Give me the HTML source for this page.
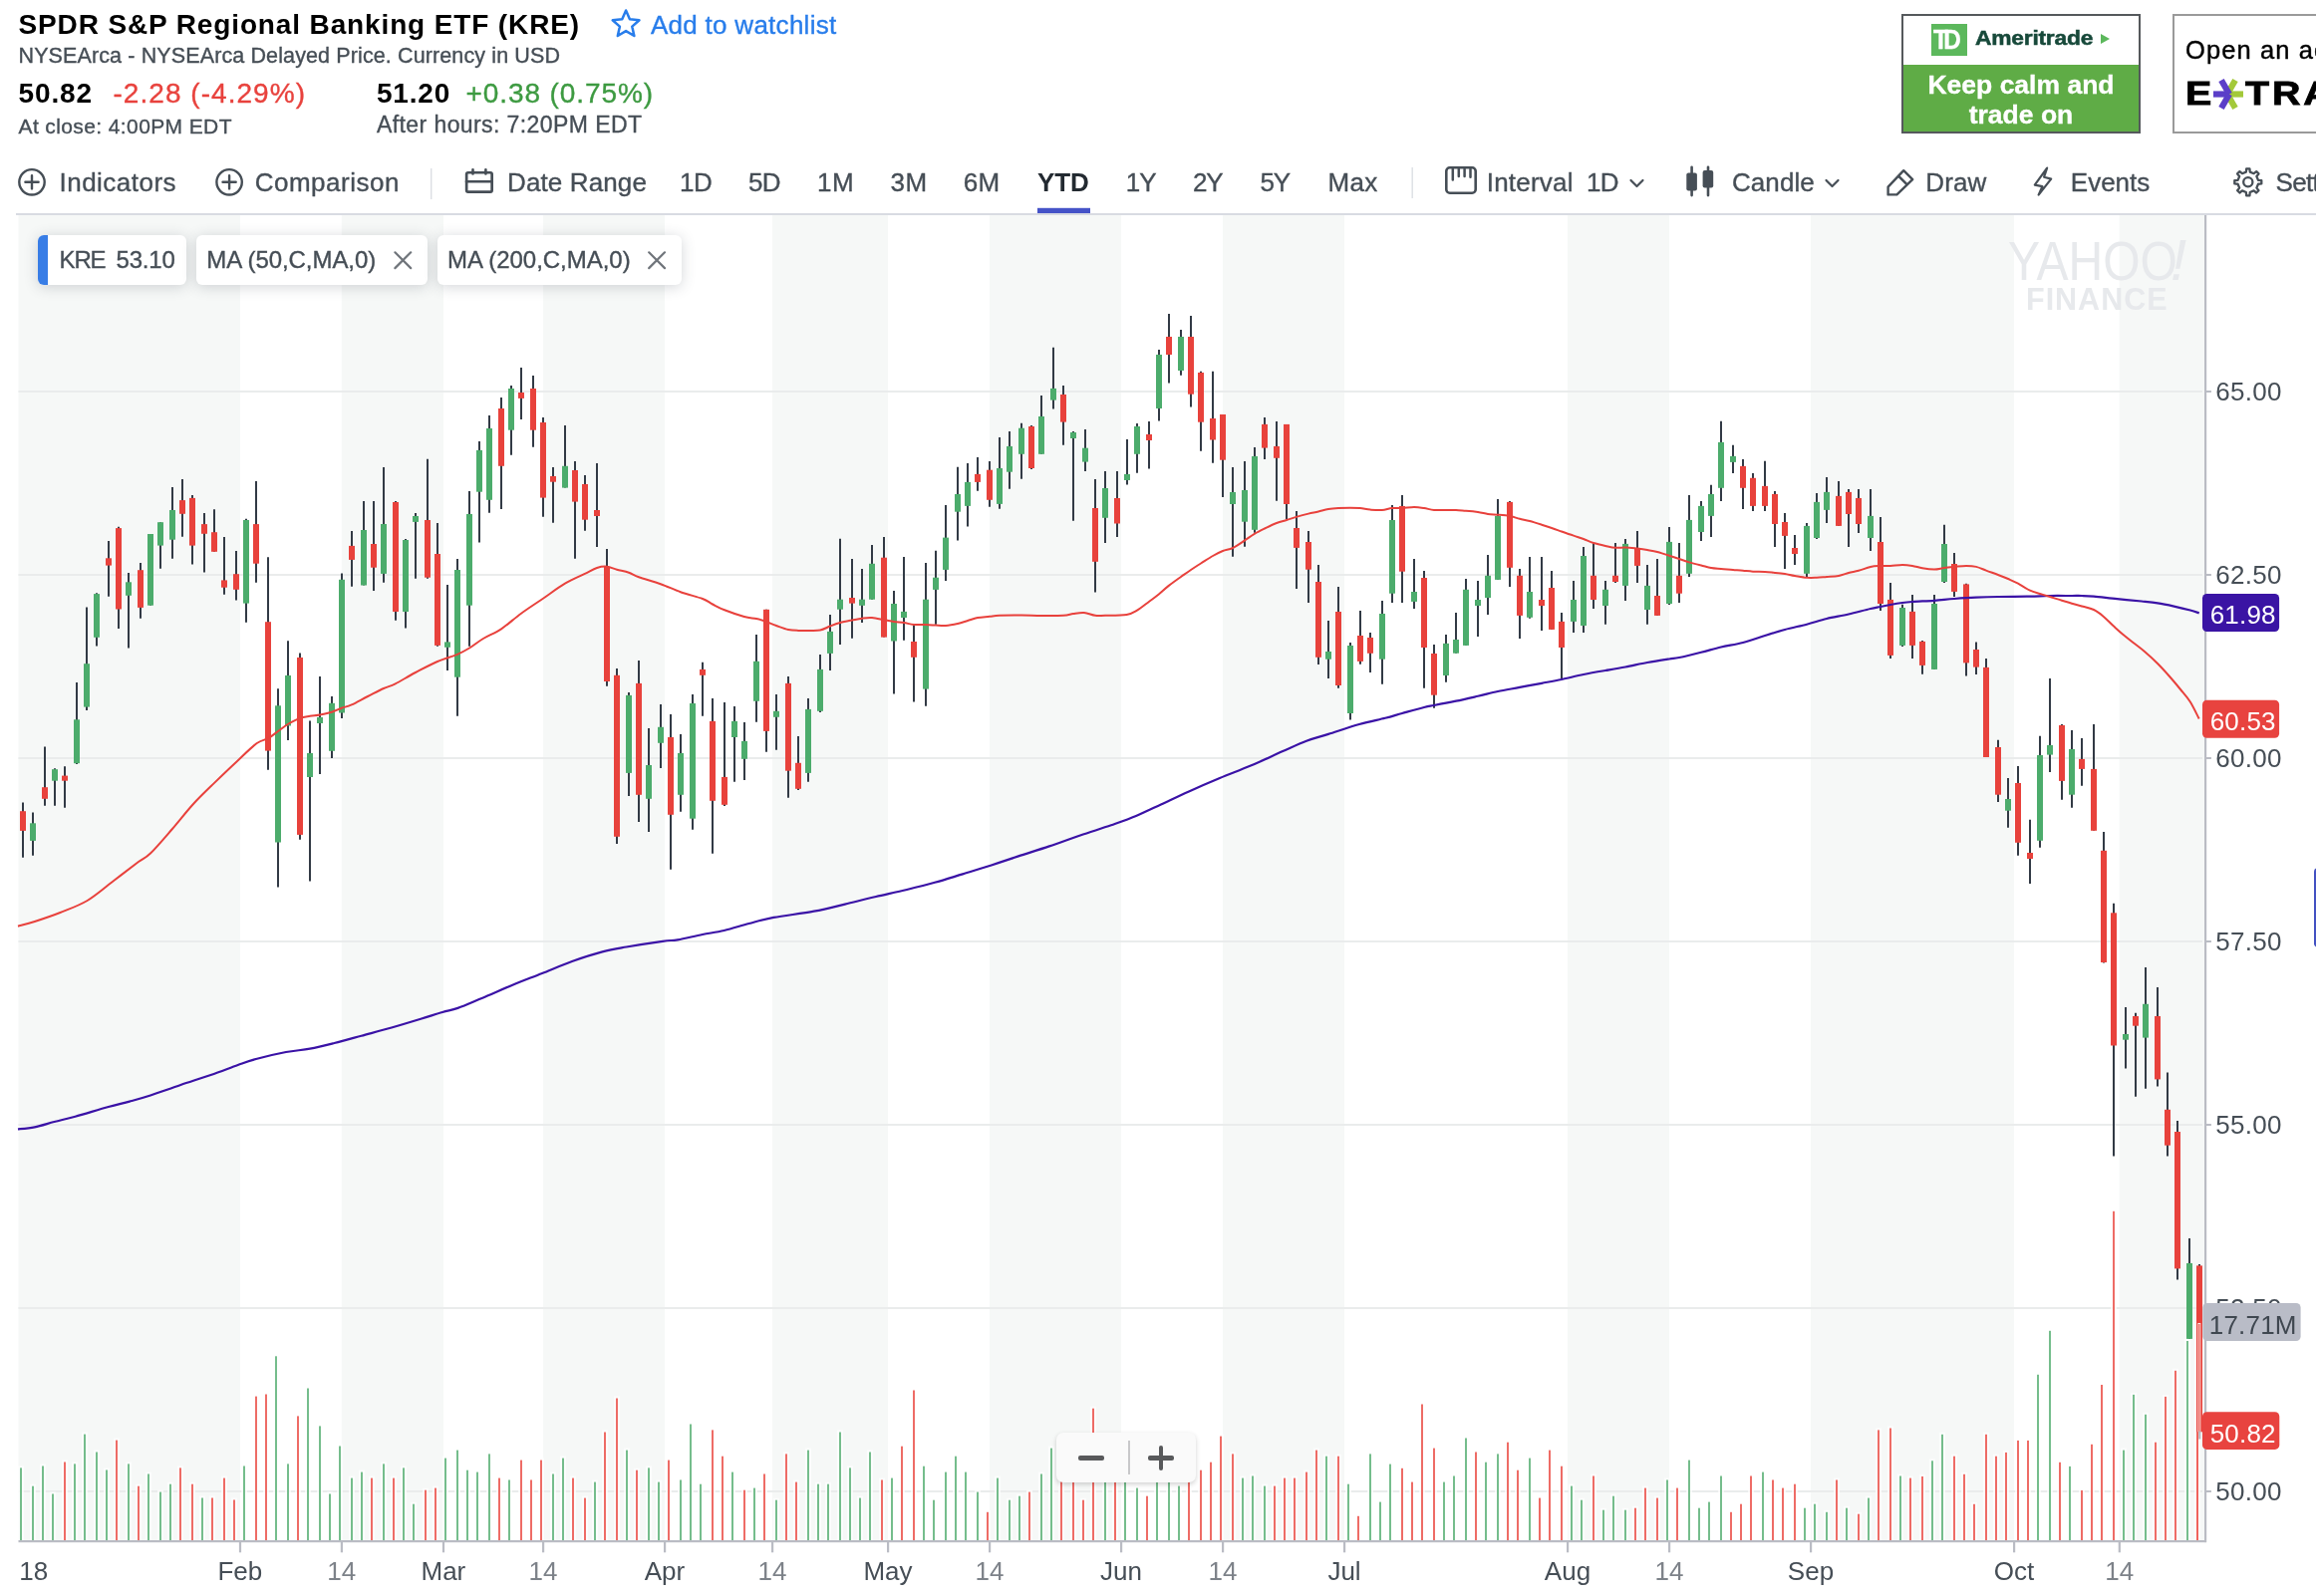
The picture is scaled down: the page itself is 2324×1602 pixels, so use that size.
<!DOCTYPE html>
<html lang="en"><head><meta charset="utf-8"><title>KRE Interactive Chart</title>
<style>
html,body{margin:0;padding:0;background:#fff}
body{width:2324px;height:1602px;position:relative;overflow:hidden;font-family:"Liberation Sans",sans-serif}
.t{position:absolute;white-space:nowrap;line-height:1;-webkit-text-stroke:.36px currentColor}
.b{-webkit-text-stroke:0 transparent}
.abs{position:absolute;display:block}
svg text{font-family:"Liberation Sans",sans-serif}
#root{position:absolute;left:0;top:0;width:2324px;height:1602px;will-change:transform}
</style></head><body><div id="root">
<div class="t b" style="left:18.5px;top:10.5px;font-size:28px;color:#000;font-weight:700;letter-spacing:0.868px;">SPDR S&amp;P Regional Banking ETF (KRE)</div>
<div class="t" style="left:653.0px;top:11.8px;font-size:26px;color:#287deb;letter-spacing:0.276px;">Add to watchlist</div>
<div class="t" style="left:18.5px;top:45.5px;font-size:21.5px;color:#464e56;letter-spacing:0.118px;">NYSEArca - NYSEArca Delayed Price. Currency in USD</div>
<div class="t b" style="left:18.5px;top:80.3px;font-size:28px;color:#000;font-weight:700;letter-spacing:0.886px;">50.82</div>
<div class="t" style="left:113.5px;top:80.3px;font-size:28px;color:#e8423d;letter-spacing:1.038px;">-2.28 (-4.29%)</div>
<div class="t b" style="left:378.0px;top:80.3px;font-size:28px;color:#000;font-weight:700;letter-spacing:0.786px;">51.20</div>
<div class="t" style="left:467.5px;top:80.3px;font-size:28px;color:#3d9a41;letter-spacing:0.910px;">+0.38 (0.75%)</div>
<div class="t" style="left:18.5px;top:116.4px;font-size:21px;color:#464e56;letter-spacing:0.391px;">At close: 4:00PM EDT</div>
<div class="t" style="left:378.0px;top:114.4px;font-size:23px;color:#464e56;letter-spacing:0.411px;">After hours: 7:20PM EDT</div>
<svg class="abs" style="left:608px;top:6px" width="40" height="40" viewBox="608 6 40 40"><polygon points="628.10,10.50 631.92,19.34 641.51,20.24 634.28,26.61 636.39,36.01 628.10,31.10 619.81,36.01 621.92,26.61 614.69,20.24 624.28,19.34" fill="none" stroke="#287deb" stroke-width="2.5" stroke-linejoin="round"/></svg>
<div class="abs" style="left:1908px;top:14px;width:240px;height:120px;box-sizing:border-box;border:2px solid #55595c;background:#5fac46;overflow:hidden">
<div style="position:absolute;left:0;top:0;width:236px;height:49px;background:#fff"></div>
<div style="position:absolute;left:28px;top:8px;width:36px;height:32px;background:#5cb85c"></div>
<div class="t" style="left:30px;top:11px;font-size:27px;font-weight:700;color:#fff;letter-spacing:-5px;transform:scaleX(.9);transform-origin:left">TD</div>
<div class="t" style="left:71.5px;top:11.5px;font-size:20px;font-weight:700;color:#17493a;letter-spacing:-.2px;transform:scaleX(1.14);transform-origin:left;-webkit-text-stroke:.5px #17493a">Ameritrade</div>
<div style="position:absolute;left:198px;top:18px;width:0;height:0;border-left:9px solid #5cb85c;border-top:5.5px solid transparent;border-bottom:5.5px solid transparent"></div>
<div class="t" style="left:0;width:236px;text-align:center;top:55.8px;font-size:26.5px;font-weight:700;color:#fff">Keep calm and</div>
<div class="t" style="left:0;width:236px;text-align:center;top:86px;font-size:26.5px;font-weight:700;color:#fff">trade on</div>
</div>
<div class="abs" style="left:2180px;top:14px;width:160px;height:120px;box-sizing:border-box;border:2px solid #9a9a9a;background:#fff;overflow:hidden">
<div class="t" style="left:11px;top:22px;font-size:25.5px;color:#000;letter-spacing:1.1px;-webkit-text-stroke:.4px #000">Open an account</div>
<div class="t" style="left:11px;top:60px;font-size:34px;font-weight:700;color:#000;letter-spacing:1.5px;transform:scaleX(1.16);transform-origin:left;-webkit-text-stroke:.8px #000">E</div>
<div class="t" style="left:71px;top:60px;font-size:34px;font-weight:700;color:#000;letter-spacing:2.5px;transform:scaleX(1.16);transform-origin:left;-webkit-text-stroke:.8px #000">TRADE</div>
<svg style="position:absolute;left:36px;top:62px" width="36" height="36" viewBox="0 0 36 36">
<g stroke-width="6.2" stroke-linecap="butt">
<line x1="17" y1="16.5" x2="33" y2="16.5" stroke="#a3c93a"/>
<line x1="17" y1="16.5" x2="25" y2="2.5" stroke="#a3c93a"/>
<line x1="17" y1="16.5" x2="25" y2="30.5" stroke="#a3c93a"/>
<line x1="3" y1="16.5" x2="19" y2="16.5" stroke="#5b3ec8"/>
<line x1="19" y1="16.5" x2="11" y2="2.5" stroke="#5b3ec8"/>
<line x1="19" y1="16.5" x2="11" y2="30.5" stroke="#5b3ec8"/>
</g></svg>
</div>
<div class="t" style="left:59.5px;top:170.1px;font-size:26px;color:#464e56;letter-spacing:0.478px;">Indicators</div>
<div class="t" style="left:255.7px;top:170.1px;font-size:26px;color:#464e56;letter-spacing:0.513px;">Comparison</div>
<div class="t" style="left:509.0px;top:170.1px;font-size:26px;color:#464e56;letter-spacing:0.124px;">Date Range</div>
<div class="t" style="left:682.0px;top:170.1px;font-size:26px;color:#464e56;letter-spacing:-0.469px;">1D</div>
<div class="t" style="left:751.0px;top:170.1px;font-size:26px;color:#464e56;letter-spacing:-0.619px;">5D</div>
<div class="t" style="left:820.0px;top:170.1px;font-size:26px;color:#464e56;letter-spacing:0.440px;">1M</div>
<div class="t" style="left:893.5px;top:170.1px;font-size:26px;color:#464e56;letter-spacing:0.440px;">3M</div>
<div class="t" style="left:966.7px;top:170.1px;font-size:26px;color:#464e56;letter-spacing:0.440px;">6M</div>
<div class="t b" style="left:1041.0px;top:170.1px;font-size:26px;color:#232a31;font-weight:700;letter-spacing:-0.101px;">YTD</div>
<div class="t" style="left:1129.7px;top:170.1px;font-size:26px;color:#464e56;letter-spacing:-0.902px;">1Y</div>
<div class="t" style="left:1197.0px;top:170.1px;font-size:26px;color:#464e56;letter-spacing:-1.152px;">2Y</div>
<div class="t" style="left:1264.4px;top:170.1px;font-size:26px;color:#464e56;letter-spacing:-1.152px;">5Y</div>
<div class="t" style="left:1332.5px;top:170.1px;font-size:26px;color:#464e56;letter-spacing:0.327px;">Max</div>
<div class="t" style="left:1491.7px;top:170.1px;font-size:26px;color:#464e56;letter-spacing:0.230px;">Interval</div>
<div class="t" style="left:1591.9px;top:170.1px;font-size:26px;color:#464e56;letter-spacing:-0.719px;">1D</div>
<div class="t" style="left:1738.0px;top:170.1px;font-size:26px;color:#464e56;letter-spacing:0.067px;">Candle</div>
<div class="t" style="left:1932.3px;top:170.1px;font-size:26px;color:#464e56;letter-spacing:0.107px;">Draw</div>
<div class="t" style="left:2077.8px;top:170.1px;font-size:26px;color:#464e56;">Events</div>
<div class="t" style="left:2283.6px;top:170.1px;font-size:26px;color:#464e56;letter-spacing:-0.743px;">Settings</div>
<svg class="abs" style="left:0;top:150px" width="2324" height="70" viewBox="0 150 2324 70"><circle cx="32" cy="182.8" r="12.7" fill="none" stroke="#464e56" stroke-width="2.4"/><path d="M25.4 182.8H38.6M32 176.20000000000002V189.4" stroke="#464e56" stroke-width="2.4" stroke-linecap="round" fill="none"/><circle cx="230.1" cy="182.8" r="12.7" fill="none" stroke="#464e56" stroke-width="2.4"/><path d="M223.5 182.8H236.7M230.1 176.20000000000002V189.4" stroke="#464e56" stroke-width="2.4" stroke-linecap="round" fill="none"/><rect x="432" y="169" width="1.4" height="31" fill="#dcdfe4"/><rect x="1416.5" y="168" width="1.4" height="31" fill="#dcdfe4"/><rect x="468.15" y="173.25" width="25.5" height="19.3" rx="1.6" fill="none" stroke="#464e56" stroke-width="2.7"/><path d="M468 182.3H493.8M474.5 170.3V174.5M487.4 170.3V174.5" stroke="#464e56" stroke-width="2.6" fill="none" stroke-linecap="round"/><rect x="1041" y="208.8" width="53" height="5.2" fill="#4553c8"/><rect x="1451.3" y="168.3" width="29.4" height="25.4" rx="3.5" fill="none" stroke="#464e56" stroke-width="2.6"/><path d="M1457.8 169.5V180.6M1463.8 169.5V177M1469.6 169.5V177M1475.5 169.5V177.8" stroke="#464e56" stroke-width="2.5" fill="none" stroke-linecap="round"/><path d="M1636.5 181L1642.5 187L1648.5 181" stroke="#464e56" stroke-width="2.2" fill="none" stroke-linecap="round" stroke-linejoin="round"/><path d="M1832.5 181L1838.5 187L1844.5 181" stroke="#464e56" stroke-width="2.2" fill="none" stroke-linecap="round" stroke-linejoin="round"/><rect x="1692.3" y="173.6" width="10.6" height="18" rx="2" fill="#464e56"/><rect x="1696.3" y="166.4" width="2.6" height="31" rx="1.3" fill="#464e56"/><rect x="1708.6" y="171" width="10.6" height="17.4" rx="2" fill="#464e56"/><rect x="1712.7" y="166.4" width="2.6" height="31" rx="1.3" fill="#464e56"/><path d="M1894.6 195.4V187.6L1910.2 171.2L1919.2 180.2L1903.4 195.4Z" fill="none" stroke="#464e56" stroke-width="2.4" stroke-linejoin="round"/><path d="M1905 176.6L1914 185.6" stroke="#464e56" stroke-width="2.4" fill="none"/><path d="M2054.1 168.6L2041.8 185.6L2049.4 187.2L2045.6 195.6L2058.2 179.6L2051.1 177.7Z" fill="none" stroke="#464e56" stroke-width="2.2" stroke-linejoin="round"/><path d="M2266.01 180.84L2269.30 181.17L2269.30 184.43L2266.01 184.76L2264.41 188.63L2266.50 191.20L2264.20 193.50L2261.63 191.41L2257.76 193.01L2257.43 196.30L2254.17 196.30L2253.84 193.01L2249.97 191.41L2247.40 193.50L2245.10 191.20L2247.19 188.63L2245.59 184.76L2242.30 184.43L2242.30 181.17L2245.59 180.84L2247.19 176.97L2245.10 174.40L2247.40 172.10L2249.97 174.19L2253.84 172.59L2254.17 169.30L2257.43 169.30L2257.76 172.59L2261.63 174.19L2264.20 172.10L2266.50 174.40L2264.41 176.97Z" fill="none" stroke="#464e56" stroke-width="2.3" stroke-linejoin="round"/><circle cx="2255.8" cy="182.8" r="4.6" fill="none" stroke="#464e56" stroke-width="2.3"/><rect x="16" y="214" width="2308" height="2" fill="#d8dbe2"/></svg>
<svg class="abs" style="left:0;top:0" width="2324" height="1602" viewBox="0 0 2324 1602"><rect x="18.5" y="216" width="222.4" height="1330.3" fill="#f6f8f7"/>
<rect x="342.8" y="216" width="102.1" height="1330.3" fill="#f6f8f7"/>
<rect x="545.0" y="216" width="122.0" height="1330.3" fill="#f6f8f7"/>
<rect x="775.0" y="216" width="116.0" height="1330.3" fill="#f6f8f7"/>
<rect x="993.0" y="216" width="132.0" height="1330.3" fill="#f6f8f7"/>
<rect x="1227.0" y="216" width="122.0" height="1330.3" fill="#f6f8f7"/>
<rect x="1573.0" y="216" width="102.0" height="1330.3" fill="#f6f8f7"/>
<rect x="1817.0" y="216" width="204.0" height="1330.3" fill="#f6f8f7"/>
<rect x="2126.7" y="216" width="86.3" height="1330.3" fill="#f6f8f7"/>
<rect x="18.5" y="392.0" width="2191.5" height="2" fill="#eaecec"/>
<rect x="18.5" y="576.0" width="2191.5" height="2" fill="#eaecec"/>
<rect x="18.5" y="760.0" width="2191.5" height="2" fill="#eaecec"/>
<rect x="18.5" y="944.0" width="2191.5" height="2" fill="#eaecec"/>
<rect x="18.5" y="1128.0" width="2191.5" height="2" fill="#eaecec"/>
<rect x="18.5" y="1312.0" width="2191.5" height="2" fill="#eaecec"/>
<rect x="18.5" y="1496.0" width="2191.5" height="2" fill="#eaecec"/>
<g fill="#e7e9ec" font-family="Liberation Sans, sans-serif"><text x="2015" y="281" font-size="55" textLength="170" lengthAdjust="spacingAndGlyphs" font-family="Liberation Serif, serif" transform="translate(0 0)">YAHOO</text><text x="2178" y="281" font-size="58" font-style="italic" font-family="Liberation Serif, serif">!</text><text x="2033" y="310.6" font-size="30.5" font-weight="700" textLength="141.5" lengthAdjust="spacing">FINANCE</text></g>
<rect x="18" y="1471.4" width="6" height="74.9" fill="#fff" opacity=".7"/><rect x="30" y="1489.7" width="6" height="56.6" fill="#fff" opacity=".7"/><rect x="40" y="1469.5" width="6" height="76.8" fill="#fff" opacity=".7"/><rect x="50" y="1497.5" width="6" height="48.8" fill="#fff" opacity=".7"/><rect x="62" y="1465.5" width="6" height="80.8" fill="#fff" opacity=".7"/><rect x="72" y="1467.4" width="6" height="78.9" fill="#fff" opacity=".7"/><rect x="82" y="1437.6" width="6" height="108.7" fill="#fff" opacity=".7"/><rect x="94" y="1455.5" width="6" height="90.8" fill="#fff" opacity=".7"/><rect x="104" y="1473.5" width="6" height="72.8" fill="#fff" opacity=".7"/><rect x="114" y="1443.6" width="6" height="102.7" fill="#fff" opacity=".7"/><rect x="126" y="1467.4" width="6" height="78.9" fill="#fff" opacity=".7"/><rect x="136" y="1489.7" width="6" height="56.6" fill="#fff" opacity=".7"/><rect x="146" y="1477.5" width="6" height="68.8" fill="#fff" opacity=".7"/><rect x="158" y="1495.6" width="6" height="50.7" fill="#fff" opacity=".7"/><rect x="168" y="1487.7" width="6" height="58.6" fill="#fff" opacity=".7"/><rect x="178" y="1471.4" width="6" height="74.9" fill="#fff" opacity=".7"/><rect x="190" y="1487.7" width="6" height="58.6" fill="#fff" opacity=".7"/><rect x="200" y="1501.5" width="6" height="44.8" fill="#fff" opacity=".7"/><rect x="210" y="1501.5" width="6" height="44.8" fill="#fff" opacity=".7"/><rect x="222" y="1481.6" width="6" height="64.7" fill="#fff" opacity=".7"/><rect x="232" y="1503.5" width="6" height="42.8" fill="#fff" opacity=".7"/><rect x="242" y="1469.5" width="6" height="76.8" fill="#fff" opacity=".7"/><rect x="254" y="1399.6" width="6" height="146.7" fill="#fff" opacity=".7"/><rect x="264" y="1397.5" width="6" height="148.8" fill="#fff" opacity=".7"/><rect x="274" y="1359.3" width="6" height="187.0" fill="#fff" opacity=".7"/><rect x="286" y="1467.4" width="6" height="78.9" fill="#fff" opacity=".7"/><rect x="296" y="1419.4" width="6" height="126.9" fill="#fff" opacity=".7"/><rect x="306" y="1391.5" width="6" height="154.8" fill="#fff" opacity=".7"/><rect x="318" y="1429.4" width="6" height="116.9" fill="#fff" opacity=".7"/><rect x="328" y="1497.5" width="6" height="48.8" fill="#fff" opacity=".7"/><rect x="338" y="1449.5" width="6" height="96.8" fill="#fff" opacity=".7"/><rect x="350" y="1481.6" width="6" height="64.7" fill="#fff" opacity=".7"/><rect x="360" y="1475.6" width="6" height="70.7" fill="#fff" opacity=".7"/><rect x="370" y="1481.6" width="6" height="64.7" fill="#fff" opacity=".7"/><rect x="382" y="1467.4" width="6" height="78.9" fill="#fff" opacity=".7"/><rect x="392" y="1481.6" width="6" height="64.7" fill="#fff" opacity=".7"/><rect x="402" y="1471.4" width="6" height="74.9" fill="#fff" opacity=".7"/><rect x="412" y="1507.7" width="6" height="38.6" fill="#fff" opacity=".7"/><rect x="424" y="1493.7" width="6" height="52.6" fill="#fff" opacity=".7"/><rect x="434" y="1491.6" width="6" height="54.7" fill="#fff" opacity=".7"/><rect x="444" y="1461.6" width="6" height="84.7" fill="#fff" opacity=".7"/><rect x="456" y="1453.6" width="6" height="92.7" fill="#fff" opacity=".7"/><rect x="466" y="1473.7" width="6" height="72.6" fill="#fff" opacity=".7"/><rect x="476" y="1475.6" width="6" height="70.7" fill="#fff" opacity=".7"/><rect x="488" y="1457.4" width="6" height="88.9" fill="#fff" opacity=".7"/><rect x="498" y="1481.6" width="6" height="64.7" fill="#fff" opacity=".7"/><rect x="508" y="1483.5" width="6" height="62.8" fill="#fff" opacity=".7"/><rect x="520" y="1463.6" width="6" height="82.7" fill="#fff" opacity=".7"/><rect x="530" y="1483.5" width="6" height="62.8" fill="#fff" opacity=".7"/><rect x="540" y="1463.6" width="6" height="82.7" fill="#fff" opacity=".7"/><rect x="552" y="1477.5" width="6" height="68.8" fill="#fff" opacity=".7"/><rect x="562" y="1461.6" width="6" height="84.7" fill="#fff" opacity=".7"/><rect x="572" y="1481.6" width="6" height="64.7" fill="#fff" opacity=".7"/><rect x="584" y="1501.6" width="6" height="44.7" fill="#fff" opacity=".7"/><rect x="594" y="1485.6" width="6" height="60.7" fill="#fff" opacity=".7"/><rect x="604" y="1435.5" width="6" height="110.8" fill="#fff" opacity=".7"/><rect x="616" y="1401.5" width="6" height="144.8" fill="#fff" opacity=".7"/><rect x="626" y="1453.6" width="6" height="92.7" fill="#fff" opacity=".7"/><rect x="636" y="1473.7" width="6" height="72.6" fill="#fff" opacity=".7"/><rect x="648" y="1471.4" width="6" height="74.9" fill="#fff" opacity=".7"/><rect x="658" y="1485.6" width="6" height="60.7" fill="#fff" opacity=".7"/><rect x="668" y="1463.6" width="6" height="82.7" fill="#fff" opacity=".7"/><rect x="680" y="1483.5" width="6" height="62.8" fill="#fff" opacity=".7"/><rect x="690" y="1427.5" width="6" height="118.8" fill="#fff" opacity=".7"/><rect x="700" y="1487.7" width="6" height="58.6" fill="#fff" opacity=".7"/><rect x="712" y="1433.4" width="6" height="112.9" fill="#fff" opacity=".7"/><rect x="722" y="1459.7" width="6" height="86.6" fill="#fff" opacity=".7"/><rect x="732" y="1475.6" width="6" height="70.7" fill="#fff" opacity=".7"/><rect x="744" y="1493.7" width="6" height="52.6" fill="#fff" opacity=".7"/><rect x="754" y="1491.6" width="6" height="54.7" fill="#fff" opacity=".7"/><rect x="764" y="1477.5" width="6" height="68.8" fill="#fff" opacity=".7"/><rect x="776" y="1503.7" width="6" height="42.6" fill="#fff" opacity=".7"/><rect x="786" y="1457.4" width="6" height="88.9" fill="#fff" opacity=".7"/><rect x="796" y="1485.6" width="6" height="60.7" fill="#fff" opacity=".7"/><rect x="808" y="1453.6" width="6" height="92.7" fill="#fff" opacity=".7"/><rect x="818" y="1487.7" width="6" height="58.6" fill="#fff" opacity=".7"/><rect x="828" y="1487.7" width="6" height="58.6" fill="#fff" opacity=".7"/><rect x="840" y="1435.5" width="6" height="110.8" fill="#fff" opacity=".7"/><rect x="850" y="1471.4" width="6" height="74.9" fill="#fff" opacity=".7"/><rect x="860" y="1501.6" width="6" height="44.7" fill="#fff" opacity=".7"/><rect x="870" y="1455.5" width="6" height="90.8" fill="#fff" opacity=".7"/><rect x="882" y="1483.5" width="6" height="62.8" fill="#fff" opacity=".7"/><rect x="892" y="1481.6" width="6" height="64.7" fill="#fff" opacity=".7"/><rect x="902" y="1449.7" width="6" height="96.6" fill="#fff" opacity=".7"/><rect x="914" y="1393.5" width="6" height="152.8" fill="#fff" opacity=".7"/><rect x="924" y="1469.7" width="6" height="76.6" fill="#fff" opacity=".7"/><rect x="934" y="1503.7" width="6" height="42.6" fill="#fff" opacity=".7"/><rect x="946" y="1475.6" width="6" height="70.7" fill="#fff" opacity=".7"/><rect x="956" y="1459.7" width="6" height="86.6" fill="#fff" opacity=".7"/><rect x="966" y="1475.6" width="6" height="70.7" fill="#fff" opacity=".7"/><rect x="978" y="1495.6" width="6" height="50.7" fill="#fff" opacity=".7"/><rect x="988" y="1515.8" width="6" height="30.5" fill="#fff" opacity=".7"/><rect x="998" y="1481.6" width="6" height="64.7" fill="#fff" opacity=".7"/><rect x="1010" y="1503.7" width="6" height="42.6" fill="#fff" opacity=".7"/><rect x="1020" y="1499.7" width="6" height="46.6" fill="#fff" opacity=".7"/><rect x="1030" y="1495.6" width="6" height="50.7" fill="#fff" opacity=".7"/><rect x="1042" y="1477.5" width="6" height="68.8" fill="#fff" opacity=".7"/><rect x="1052" y="1451.6" width="6" height="94.7" fill="#fff" opacity=".7"/><rect x="1062" y="1474.3" width="6" height="72.0" fill="#fff" opacity=".7"/><rect x="1074" y="1474.3" width="6" height="72.0" fill="#fff" opacity=".7"/><rect x="1084" y="1503.7" width="6" height="42.6" fill="#fff" opacity=".7"/><rect x="1094" y="1411.7" width="6" height="134.6" fill="#fff" opacity=".7"/><rect x="1106" y="1474.3" width="6" height="72.0" fill="#fff" opacity=".7"/><rect x="1116" y="1474.3" width="6" height="72.0" fill="#fff" opacity=".7"/><rect x="1126" y="1464.3" width="6" height="82.0" fill="#fff" opacity=".7"/><rect x="1138" y="1491.6" width="6" height="54.7" fill="#fff" opacity=".7"/><rect x="1148" y="1499.7" width="6" height="46.6" fill="#fff" opacity=".7"/><rect x="1158" y="1469.3" width="6" height="77.0" fill="#fff" opacity=".7"/><rect x="1170" y="1469.3" width="6" height="77.0" fill="#fff" opacity=".7"/><rect x="1180" y="1489.6" width="6" height="56.7" fill="#fff" opacity=".7"/><rect x="1190" y="1464.3" width="6" height="82.0" fill="#fff" opacity=".7"/><rect x="1202" y="1473.7" width="6" height="72.6" fill="#fff" opacity=".7"/><rect x="1212" y="1465.7" width="6" height="80.6" fill="#fff" opacity=".7"/><rect x="1222" y="1439.6" width="6" height="106.7" fill="#fff" opacity=".7"/><rect x="1234" y="1457.4" width="6" height="88.9" fill="#fff" opacity=".7"/><rect x="1244" y="1481.6" width="6" height="64.7" fill="#fff" opacity=".7"/><rect x="1254" y="1479.5" width="6" height="66.8" fill="#fff" opacity=".7"/><rect x="1266" y="1489.6" width="6" height="56.7" fill="#fff" opacity=".7"/><rect x="1276" y="1489.6" width="6" height="56.7" fill="#fff" opacity=".7"/><rect x="1286" y="1481.6" width="6" height="64.7" fill="#fff" opacity=".7"/><rect x="1296" y="1481.6" width="6" height="64.7" fill="#fff" opacity=".7"/><rect x="1308" y="1475.6" width="6" height="70.7" fill="#fff" opacity=".7"/><rect x="1318" y="1453.6" width="6" height="92.7" fill="#fff" opacity=".7"/><rect x="1328" y="1459.7" width="6" height="86.6" fill="#fff" opacity=".7"/><rect x="1340" y="1459.7" width="6" height="86.6" fill="#fff" opacity=".7"/><rect x="1350" y="1487.7" width="6" height="58.6" fill="#fff" opacity=".7"/><rect x="1360" y="1519.8" width="6" height="26.5" fill="#fff" opacity=".7"/><rect x="1372" y="1457.4" width="6" height="88.9" fill="#fff" opacity=".7"/><rect x="1382" y="1505.6" width="6" height="40.7" fill="#fff" opacity=".7"/><rect x="1392" y="1467.6" width="6" height="78.7" fill="#fff" opacity=".7"/><rect x="1404" y="1471.8" width="6" height="74.5" fill="#fff" opacity=".7"/><rect x="1414" y="1485.6" width="6" height="60.7" fill="#fff" opacity=".7"/><rect x="1424" y="1407.5" width="6" height="138.8" fill="#fff" opacity=".7"/><rect x="1436" y="1451.6" width="6" height="94.7" fill="#fff" opacity=".7"/><rect x="1446" y="1485.6" width="6" height="60.7" fill="#fff" opacity=".7"/><rect x="1456" y="1479.5" width="6" height="66.8" fill="#fff" opacity=".7"/><rect x="1468" y="1441.5" width="6" height="104.8" fill="#fff" opacity=".7"/><rect x="1478" y="1455.5" width="6" height="90.8" fill="#fff" opacity=".7"/><rect x="1488" y="1465.7" width="6" height="80.6" fill="#fff" opacity=".7"/><rect x="1500" y="1457.4" width="6" height="88.9" fill="#fff" opacity=".7"/><rect x="1510" y="1445.7" width="6" height="100.6" fill="#fff" opacity=".7"/><rect x="1520" y="1473.7" width="6" height="72.6" fill="#fff" opacity=".7"/><rect x="1532" y="1461.6" width="6" height="84.7" fill="#fff" opacity=".7"/><rect x="1542" y="1501.6" width="6" height="44.7" fill="#fff" opacity=".7"/><rect x="1552" y="1453.6" width="6" height="92.7" fill="#fff" opacity=".7"/><rect x="1564" y="1469.7" width="6" height="76.6" fill="#fff" opacity=".7"/><rect x="1574" y="1489.6" width="6" height="56.7" fill="#fff" opacity=".7"/><rect x="1584" y="1503.7" width="6" height="42.6" fill="#fff" opacity=".7"/><rect x="1596" y="1479.5" width="6" height="66.8" fill="#fff" opacity=".7"/><rect x="1606" y="1513.7" width="6" height="32.6" fill="#fff" opacity=".7"/><rect x="1616" y="1499.7" width="6" height="46.6" fill="#fff" opacity=".7"/><rect x="1628" y="1513.7" width="6" height="32.6" fill="#fff" opacity=".7"/><rect x="1638" y="1511.7" width="6" height="34.6" fill="#fff" opacity=".7"/><rect x="1648" y="1491.6" width="6" height="54.7" fill="#fff" opacity=".7"/><rect x="1660" y="1501.6" width="6" height="44.7" fill="#fff" opacity=".7"/><rect x="1670" y="1483.5" width="6" height="62.8" fill="#fff" opacity=".7"/><rect x="1680" y="1491.6" width="6" height="54.7" fill="#fff" opacity=".7"/><rect x="1692" y="1463.6" width="6" height="82.7" fill="#fff" opacity=".7"/><rect x="1702" y="1511.7" width="6" height="34.6" fill="#fff" opacity=".7"/><rect x="1712" y="1505.6" width="6" height="40.7" fill="#fff" opacity=".7"/><rect x="1724" y="1479.5" width="6" height="66.8" fill="#fff" opacity=".7"/><rect x="1734" y="1515.8" width="6" height="30.5" fill="#fff" opacity=".7"/><rect x="1744" y="1507.7" width="6" height="38.6" fill="#fff" opacity=".7"/><rect x="1754" y="1479.5" width="6" height="66.8" fill="#fff" opacity=".7"/><rect x="1766" y="1475.6" width="6" height="70.7" fill="#fff" opacity=".7"/><rect x="1776" y="1483.5" width="6" height="62.8" fill="#fff" opacity=".7"/><rect x="1786" y="1491.6" width="6" height="54.7" fill="#fff" opacity=".7"/><rect x="1798" y="1487.7" width="6" height="58.6" fill="#fff" opacity=".7"/><rect x="1808" y="1511.7" width="6" height="34.6" fill="#fff" opacity=".7"/><rect x="1818" y="1507.7" width="6" height="38.6" fill="#fff" opacity=".7"/><rect x="1830" y="1515.8" width="6" height="30.5" fill="#fff" opacity=".7"/><rect x="1840" y="1483.5" width="6" height="62.8" fill="#fff" opacity=".7"/><rect x="1850" y="1511.7" width="6" height="34.6" fill="#fff" opacity=".7"/><rect x="1862" y="1517.7" width="6" height="28.6" fill="#fff" opacity=".7"/><rect x="1872" y="1501.6" width="6" height="44.7" fill="#fff" opacity=".7"/><rect x="1882" y="1433.4" width="6" height="112.9" fill="#fff" opacity=".7"/><rect x="1894" y="1431.5" width="6" height="114.8" fill="#fff" opacity=".7"/><rect x="1904" y="1479.5" width="6" height="66.8" fill="#fff" opacity=".7"/><rect x="1914" y="1481.6" width="6" height="64.7" fill="#fff" opacity=".7"/><rect x="1926" y="1480.0" width="6" height="66.3" fill="#fff" opacity=".7"/><rect x="1936" y="1464.3" width="6" height="82.0" fill="#fff" opacity=".7"/><rect x="1946" y="1437.8" width="6" height="108.5" fill="#fff" opacity=".7"/><rect x="1958" y="1459.7" width="6" height="86.6" fill="#fff" opacity=".7"/><rect x="1968" y="1477.8" width="6" height="68.5" fill="#fff" opacity=".7"/><rect x="1978" y="1507.8" width="6" height="38.5" fill="#fff" opacity=".7"/><rect x="1990" y="1437.8" width="6" height="108.5" fill="#fff" opacity=".7"/><rect x="2000" y="1459.7" width="6" height="86.6" fill="#fff" opacity=".7"/><rect x="2010" y="1455.9" width="6" height="90.4" fill="#fff" opacity=".7"/><rect x="2022" y="1443.9" width="6" height="102.4" fill="#fff" opacity=".7"/><rect x="2032" y="1443.9" width="6" height="102.4" fill="#fff" opacity=".7"/><rect x="2042" y="1377.8" width="6" height="168.5" fill="#fff" opacity=".7"/><rect x="2054" y="1333.8" width="6" height="212.5" fill="#fff" opacity=".7"/><rect x="2064" y="1465.8" width="6" height="80.5" fill="#fff" opacity=".7"/><rect x="2074" y="1469.9" width="6" height="76.4" fill="#fff" opacity=".7"/><rect x="2086" y="1494.0" width="6" height="52.3" fill="#fff" opacity=".7"/><rect x="2096" y="1447.8" width="6" height="98.5" fill="#fff" opacity=".7"/><rect x="2106" y="1388.0" width="6" height="158.3" fill="#fff" opacity=".7"/><rect x="2118" y="1213.8" width="6" height="332.5" fill="#fff" opacity=".7"/><rect x="2128" y="1453.6" width="6" height="92.7" fill="#fff" opacity=".7"/><rect x="2138" y="1397.9" width="6" height="148.4" fill="#fff" opacity=".7"/><rect x="2150" y="1417.8" width="6" height="128.5" fill="#fff" opacity=".7"/><rect x="2160" y="1445.7" width="6" height="100.6" fill="#fff" opacity=".7"/><rect x="2170" y="1399.9" width="6" height="146.4" fill="#fff" opacity=".7"/><rect x="2180" y="1373.8" width="6" height="172.5" fill="#fff" opacity=".7"/><rect x="2192" y="1344.0" width="6" height="202.3" fill="#fff" opacity=".7"/><rect x="2202" y="1327.1" width="6" height="219.2" fill="#fff" opacity=".7"/>
<rect x="20" y="1473.4" width="2" height="72.9" fill="#75bd8c"/><rect x="32" y="1491.7" width="2" height="54.6" fill="#75bd8c"/><rect x="42" y="1471.5" width="2" height="74.8" fill="#75bd8c"/><rect x="52" y="1499.5" width="2" height="46.8" fill="#75bd8c"/><rect x="64" y="1467.5" width="2" height="78.8" fill="#ee6c66"/><rect x="74" y="1469.4" width="2" height="76.9" fill="#75bd8c"/><rect x="84" y="1439.6" width="2" height="106.7" fill="#75bd8c"/><rect x="96" y="1457.5" width="2" height="88.8" fill="#75bd8c"/><rect x="106" y="1475.5" width="2" height="70.8" fill="#75bd8c"/><rect x="116" y="1445.6" width="2" height="100.7" fill="#ee6c66"/><rect x="128" y="1469.4" width="2" height="76.9" fill="#75bd8c"/><rect x="138" y="1491.7" width="2" height="54.6" fill="#ee6c66"/><rect x="148" y="1479.5" width="2" height="66.8" fill="#75bd8c"/><rect x="160" y="1497.6" width="2" height="48.7" fill="#75bd8c"/><rect x="170" y="1489.7" width="2" height="56.6" fill="#75bd8c"/><rect x="180" y="1473.4" width="2" height="72.9" fill="#ee6c66"/><rect x="192" y="1489.7" width="2" height="56.6" fill="#ee6c66"/><rect x="202" y="1503.5" width="2" height="42.8" fill="#75bd8c"/><rect x="212" y="1503.5" width="2" height="42.8" fill="#ee6c66"/><rect x="224" y="1483.6" width="2" height="62.7" fill="#ee6c66"/><rect x="234" y="1505.5" width="2" height="40.8" fill="#ee6c66"/><rect x="244" y="1471.5" width="2" height="74.8" fill="#75bd8c"/><rect x="256" y="1401.6" width="2" height="144.7" fill="#ee6c66"/><rect x="266" y="1399.5" width="2" height="146.8" fill="#ee6c66"/><rect x="276" y="1361.3" width="2" height="185.0" fill="#75bd8c"/><rect x="288" y="1469.4" width="2" height="76.9" fill="#75bd8c"/><rect x="298" y="1421.4" width="2" height="124.9" fill="#ee6c66"/><rect x="308" y="1393.5" width="2" height="152.8" fill="#75bd8c"/><rect x="320" y="1431.4" width="2" height="114.9" fill="#75bd8c"/><rect x="330" y="1499.5" width="2" height="46.8" fill="#75bd8c"/><rect x="340" y="1451.5" width="2" height="94.8" fill="#75bd8c"/><rect x="352" y="1483.6" width="2" height="62.7" fill="#75bd8c"/><rect x="362" y="1477.6" width="2" height="68.7" fill="#75bd8c"/><rect x="372" y="1483.6" width="2" height="62.7" fill="#ee6c66"/><rect x="384" y="1469.4" width="2" height="76.9" fill="#75bd8c"/><rect x="394" y="1483.6" width="2" height="62.7" fill="#ee6c66"/><rect x="404" y="1473.4" width="2" height="72.9" fill="#75bd8c"/><rect x="414" y="1509.7" width="2" height="36.6" fill="#75bd8c"/><rect x="426" y="1495.7" width="2" height="50.6" fill="#ee6c66"/><rect x="436" y="1493.6" width="2" height="52.7" fill="#ee6c66"/><rect x="446" y="1463.6" width="2" height="82.7" fill="#75bd8c"/><rect x="458" y="1455.6" width="2" height="90.7" fill="#75bd8c"/><rect x="468" y="1475.7" width="2" height="70.6" fill="#75bd8c"/><rect x="478" y="1477.6" width="2" height="68.7" fill="#75bd8c"/><rect x="490" y="1459.4" width="2" height="86.9" fill="#75bd8c"/><rect x="500" y="1483.6" width="2" height="62.7" fill="#ee6c66"/><rect x="510" y="1485.5" width="2" height="60.8" fill="#75bd8c"/><rect x="522" y="1465.6" width="2" height="80.7" fill="#ee6c66"/><rect x="532" y="1485.5" width="2" height="60.8" fill="#ee6c66"/><rect x="542" y="1465.6" width="2" height="80.7" fill="#ee6c66"/><rect x="554" y="1479.5" width="2" height="66.8" fill="#75bd8c"/><rect x="564" y="1463.6" width="2" height="82.7" fill="#75bd8c"/><rect x="574" y="1483.6" width="2" height="62.7" fill="#ee6c66"/><rect x="586" y="1503.6" width="2" height="42.7" fill="#ee6c66"/><rect x="596" y="1487.6" width="2" height="58.7" fill="#75bd8c"/><rect x="606" y="1437.5" width="2" height="108.8" fill="#ee6c66"/><rect x="618" y="1403.5" width="2" height="142.8" fill="#ee6c66"/><rect x="628" y="1455.6" width="2" height="90.7" fill="#75bd8c"/><rect x="638" y="1475.7" width="2" height="70.6" fill="#ee6c66"/><rect x="650" y="1473.4" width="2" height="72.9" fill="#75bd8c"/><rect x="660" y="1487.6" width="2" height="58.7" fill="#75bd8c"/><rect x="670" y="1465.6" width="2" height="80.7" fill="#ee6c66"/><rect x="682" y="1485.5" width="2" height="60.8" fill="#75bd8c"/><rect x="692" y="1429.5" width="2" height="116.8" fill="#75bd8c"/><rect x="702" y="1489.7" width="2" height="56.6" fill="#75bd8c"/><rect x="714" y="1435.4" width="2" height="110.9" fill="#ee6c66"/><rect x="724" y="1461.7" width="2" height="84.6" fill="#ee6c66"/><rect x="734" y="1477.6" width="2" height="68.7" fill="#75bd8c"/><rect x="746" y="1495.7" width="2" height="50.6" fill="#ee6c66"/><rect x="756" y="1493.6" width="2" height="52.7" fill="#75bd8c"/><rect x="766" y="1479.5" width="2" height="66.8" fill="#ee6c66"/><rect x="778" y="1505.7" width="2" height="40.6" fill="#75bd8c"/><rect x="788" y="1459.4" width="2" height="86.9" fill="#ee6c66"/><rect x="798" y="1487.6" width="2" height="58.7" fill="#ee6c66"/><rect x="810" y="1455.6" width="2" height="90.7" fill="#75bd8c"/><rect x="820" y="1489.7" width="2" height="56.6" fill="#75bd8c"/><rect x="830" y="1489.7" width="2" height="56.6" fill="#75bd8c"/><rect x="842" y="1437.5" width="2" height="108.8" fill="#75bd8c"/><rect x="852" y="1473.4" width="2" height="72.9" fill="#75bd8c"/><rect x="862" y="1503.6" width="2" height="42.7" fill="#75bd8c"/><rect x="872" y="1457.5" width="2" height="88.8" fill="#75bd8c"/><rect x="884" y="1485.5" width="2" height="60.8" fill="#ee6c66"/><rect x="894" y="1483.6" width="2" height="62.7" fill="#75bd8c"/><rect x="904" y="1451.7" width="2" height="94.6" fill="#ee6c66"/><rect x="916" y="1395.5" width="2" height="150.8" fill="#ee6c66"/><rect x="926" y="1471.7" width="2" height="74.6" fill="#75bd8c"/><rect x="936" y="1505.7" width="2" height="40.6" fill="#75bd8c"/><rect x="948" y="1477.6" width="2" height="68.7" fill="#75bd8c"/><rect x="958" y="1461.7" width="2" height="84.6" fill="#75bd8c"/><rect x="968" y="1477.6" width="2" height="68.7" fill="#75bd8c"/><rect x="980" y="1497.6" width="2" height="48.7" fill="#75bd8c"/><rect x="990" y="1517.8" width="2" height="28.5" fill="#ee6c66"/><rect x="1000" y="1483.6" width="2" height="62.7" fill="#75bd8c"/><rect x="1012" y="1505.7" width="2" height="40.6" fill="#75bd8c"/><rect x="1022" y="1501.7" width="2" height="44.6" fill="#75bd8c"/><rect x="1032" y="1497.6" width="2" height="48.7" fill="#ee6c66"/><rect x="1044" y="1479.5" width="2" height="66.8" fill="#75bd8c"/><rect x="1054" y="1453.6" width="2" height="92.7" fill="#75bd8c"/><rect x="1064" y="1476.3" width="2" height="70.0" fill="#ee6c66"/><rect x="1076" y="1476.3" width="2" height="70.0" fill="#ee6c66"/><rect x="1086" y="1505.7" width="2" height="40.6" fill="#ee6c66"/><rect x="1096" y="1413.7" width="2" height="132.6" fill="#ee6c66"/><rect x="1108" y="1476.3" width="2" height="70.0" fill="#75bd8c"/><rect x="1118" y="1476.3" width="2" height="70.0" fill="#ee6c66"/><rect x="1128" y="1466.3" width="2" height="80.0" fill="#75bd8c"/><rect x="1140" y="1493.6" width="2" height="52.7" fill="#75bd8c"/><rect x="1150" y="1501.7" width="2" height="44.6" fill="#ee6c66"/><rect x="1160" y="1471.3" width="2" height="75.0" fill="#75bd8c"/><rect x="1172" y="1471.3" width="2" height="75.0" fill="#75bd8c"/><rect x="1182" y="1491.6" width="2" height="54.7" fill="#75bd8c"/><rect x="1192" y="1466.3" width="2" height="80.0" fill="#ee6c66"/><rect x="1204" y="1475.7" width="2" height="70.6" fill="#ee6c66"/><rect x="1214" y="1467.7" width="2" height="78.6" fill="#ee6c66"/><rect x="1224" y="1441.6" width="2" height="104.7" fill="#ee6c66"/><rect x="1236" y="1459.4" width="2" height="86.9" fill="#ee6c66"/><rect x="1246" y="1483.6" width="2" height="62.7" fill="#75bd8c"/><rect x="1256" y="1481.5" width="2" height="64.8" fill="#75bd8c"/><rect x="1268" y="1491.6" width="2" height="54.7" fill="#75bd8c"/><rect x="1278" y="1491.6" width="2" height="54.7" fill="#ee6c66"/><rect x="1288" y="1483.6" width="2" height="62.7" fill="#ee6c66"/><rect x="1298" y="1483.6" width="2" height="62.7" fill="#ee6c66"/><rect x="1310" y="1477.6" width="2" height="68.7" fill="#ee6c66"/><rect x="1320" y="1455.6" width="2" height="90.7" fill="#ee6c66"/><rect x="1330" y="1461.7" width="2" height="84.6" fill="#75bd8c"/><rect x="1342" y="1461.7" width="2" height="84.6" fill="#ee6c66"/><rect x="1352" y="1489.7" width="2" height="56.6" fill="#75bd8c"/><rect x="1362" y="1521.8" width="2" height="24.5" fill="#ee6c66"/><rect x="1374" y="1459.4" width="2" height="86.9" fill="#75bd8c"/><rect x="1384" y="1507.6" width="2" height="38.7" fill="#75bd8c"/><rect x="1394" y="1469.6" width="2" height="76.7" fill="#75bd8c"/><rect x="1406" y="1473.8" width="2" height="72.5" fill="#ee6c66"/><rect x="1416" y="1487.6" width="2" height="58.7" fill="#ee6c66"/><rect x="1426" y="1409.5" width="2" height="136.8" fill="#ee6c66"/><rect x="1438" y="1453.6" width="2" height="92.7" fill="#ee6c66"/><rect x="1448" y="1487.6" width="2" height="58.7" fill="#75bd8c"/><rect x="1458" y="1481.5" width="2" height="64.8" fill="#75bd8c"/><rect x="1470" y="1443.5" width="2" height="102.8" fill="#75bd8c"/><rect x="1480" y="1457.5" width="2" height="88.8" fill="#ee6c66"/><rect x="1490" y="1467.7" width="2" height="78.6" fill="#75bd8c"/><rect x="1502" y="1459.4" width="2" height="86.9" fill="#75bd8c"/><rect x="1512" y="1447.7" width="2" height="98.6" fill="#ee6c66"/><rect x="1522" y="1475.7" width="2" height="70.6" fill="#ee6c66"/><rect x="1534" y="1463.6" width="2" height="82.7" fill="#75bd8c"/><rect x="1544" y="1503.6" width="2" height="42.7" fill="#ee6c66"/><rect x="1554" y="1455.6" width="2" height="90.7" fill="#ee6c66"/><rect x="1566" y="1471.7" width="2" height="74.6" fill="#ee6c66"/><rect x="1576" y="1491.6" width="2" height="54.7" fill="#75bd8c"/><rect x="1586" y="1505.7" width="2" height="40.6" fill="#75bd8c"/><rect x="1598" y="1481.5" width="2" height="64.8" fill="#ee6c66"/><rect x="1608" y="1515.7" width="2" height="30.6" fill="#75bd8c"/><rect x="1618" y="1501.7" width="2" height="44.6" fill="#75bd8c"/><rect x="1630" y="1515.7" width="2" height="30.6" fill="#75bd8c"/><rect x="1640" y="1513.7" width="2" height="32.6" fill="#ee6c66"/><rect x="1650" y="1493.6" width="2" height="52.7" fill="#ee6c66"/><rect x="1662" y="1503.6" width="2" height="42.7" fill="#ee6c66"/><rect x="1672" y="1485.5" width="2" height="60.8" fill="#75bd8c"/><rect x="1682" y="1493.6" width="2" height="52.7" fill="#ee6c66"/><rect x="1694" y="1465.6" width="2" height="80.7" fill="#75bd8c"/><rect x="1704" y="1513.7" width="2" height="32.6" fill="#75bd8c"/><rect x="1714" y="1507.6" width="2" height="38.7" fill="#75bd8c"/><rect x="1726" y="1481.5" width="2" height="64.8" fill="#75bd8c"/><rect x="1736" y="1517.8" width="2" height="28.5" fill="#ee6c66"/><rect x="1746" y="1509.7" width="2" height="36.6" fill="#ee6c66"/><rect x="1756" y="1481.5" width="2" height="64.8" fill="#ee6c66"/><rect x="1768" y="1477.6" width="2" height="68.7" fill="#75bd8c"/><rect x="1778" y="1485.5" width="2" height="60.8" fill="#ee6c66"/><rect x="1788" y="1493.6" width="2" height="52.7" fill="#ee6c66"/><rect x="1800" y="1489.7" width="2" height="56.6" fill="#ee6c66"/><rect x="1810" y="1513.7" width="2" height="32.6" fill="#75bd8c"/><rect x="1820" y="1509.7" width="2" height="36.6" fill="#75bd8c"/><rect x="1832" y="1517.8" width="2" height="28.5" fill="#75bd8c"/><rect x="1842" y="1485.5" width="2" height="60.8" fill="#ee6c66"/><rect x="1852" y="1513.7" width="2" height="32.6" fill="#75bd8c"/><rect x="1864" y="1519.7" width="2" height="26.6" fill="#ee6c66"/><rect x="1874" y="1503.6" width="2" height="42.7" fill="#75bd8c"/><rect x="1884" y="1435.4" width="2" height="110.9" fill="#ee6c66"/><rect x="1896" y="1433.5" width="2" height="112.8" fill="#ee6c66"/><rect x="1906" y="1481.5" width="2" height="64.8" fill="#75bd8c"/><rect x="1916" y="1483.6" width="2" height="62.7" fill="#ee6c66"/><rect x="1928" y="1482.0" width="2" height="64.3" fill="#ee6c66"/><rect x="1938" y="1466.3" width="2" height="80.0" fill="#75bd8c"/><rect x="1948" y="1439.8" width="2" height="106.5" fill="#75bd8c"/><rect x="1960" y="1461.7" width="2" height="84.6" fill="#ee6c66"/><rect x="1970" y="1479.8" width="2" height="66.5" fill="#ee6c66"/><rect x="1980" y="1509.8" width="2" height="36.5" fill="#ee6c66"/><rect x="1992" y="1439.8" width="2" height="106.5" fill="#ee6c66"/><rect x="2002" y="1461.7" width="2" height="84.6" fill="#ee6c66"/><rect x="2012" y="1457.9" width="2" height="88.4" fill="#ee6c66"/><rect x="2024" y="1445.9" width="2" height="100.4" fill="#ee6c66"/><rect x="2034" y="1445.9" width="2" height="100.4" fill="#ee6c66"/><rect x="2044" y="1379.8" width="2" height="166.5" fill="#75bd8c"/><rect x="2056" y="1335.8" width="2" height="210.5" fill="#75bd8c"/><rect x="2066" y="1467.8" width="2" height="78.5" fill="#ee6c66"/><rect x="2076" y="1471.9" width="2" height="74.4" fill="#75bd8c"/><rect x="2088" y="1496.0" width="2" height="50.3" fill="#ee6c66"/><rect x="2098" y="1449.8" width="2" height="96.5" fill="#ee6c66"/><rect x="2108" y="1390.0" width="2" height="156.3" fill="#ee6c66"/><rect x="2120" y="1215.8" width="2" height="330.5" fill="#ee6c66"/><rect x="2130" y="1455.6" width="2" height="90.7" fill="#75bd8c"/><rect x="2140" y="1399.9" width="2" height="146.4" fill="#75bd8c"/><rect x="2152" y="1419.8" width="2" height="126.5" fill="#75bd8c"/><rect x="2162" y="1447.7" width="2" height="98.6" fill="#ee6c66"/><rect x="2172" y="1401.9" width="2" height="144.4" fill="#ee6c66"/><rect x="2182" y="1375.8" width="2" height="170.5" fill="#ee6c66"/><rect x="2194" y="1346.0" width="2" height="200.3" fill="#75bd8c"/><rect x="2204" y="1329.1" width="2" height="217.2" fill="#f0625c"/>
<path d="M23 805.6V860.8M33 815.6V858.7M45 749.5V808.8M55 771.3V808.8M65 769.2V810.7M77 685.1V767.0M87 609.4V712.9M97 595.3V648.4M109 543.0V598.8M119 528.8V630.9M129 575.1V650.6M141 565.1V620.7M151 536.0V607.7M161 524.2V570.8M173 489.1V560.8M183 481.1V538.7M193 497.0V566.5M205 515.0V574.6M215 511.2V553.8M225 539.0V596.7M237 553.0V602.6M247 520.7V624.7M257 482.9V584.8M269 559.2V772.7M279 691.3V890.5M289 643.3V743.0M301 655.4V842.7M311 723.6V884.5M321 679.0V777.0M333 699.0V761.0M343 575.4V720.9M353 533.0V588.8M365 503.0V587.5M375 503.0V592.9M385 468.9V584.8M397 503.0V622.8M407 540.9V630.6M417 515.0V580.8M429 460.8V580.8M439 525.0V648.7M449 587.0V672.9M459 561.0V718.8M471 493.0V648.7M481 443.0V544.6M491 417.0V514.7M503 399.0V510.9M513 387.0V456.7M523 368.9V420.9M535 377.0V448.7M545 419.0V518.7M555 468.9V524.7M567 427.0V489.6M577 463.0V560.8M587 477.0V532.7M599 465.0V549.0M609 551.0V688.8M619 671.0V847.0M631 694.9V799.0M641 662.9V824.9M651 730.9V834.9M663 707.0V771.0M673 717.0V872.8M683 736.9V814.8M695 697.0V832.7M705 664.8V718.7M715 701.0V856.8M727 704.9V808.9M737 708.9V784.8M747 724.9V782.9M759 636.9V724.7M769 611.8V754.8M779 697.0V752.8M791 678.9V800.8M801 739.0V792.9M811 701.0V784.8M823 657.0V714.9M833 616.9V672.9M843 540.8V646.9M855 560.9V640.8M865 570.9V624.9M875 547.0V601.7M887 538.9V639.6M897 593.0V696.5M907 558.9V642.7M917 627.6V704.5M929 565.0V708.7M939 552.8V626.8M949 507.0V582.9M961 468.8V542.6M971 464.9V528.6M981 459.0V492.7M993 463.0V508.8M1003 439.0V510.8M1013 433.0V490.8M1025 424.8V480.7M1035 427.0V471.0M1045 397.0V455.8M1057 348.8V410.6M1067 386.9V446.8M1077 433.0V522.8M1089 430.9V472.9M1099 481.0V594.6M1109 473.0V545.0M1121 473.0V538.9M1131 441.0V486.5M1141 425.0V474.7M1153 423.0V470.6M1163 351.0V422.6M1173 315.0V384.6M1185 331.0V376.8M1195 317.0V408.6M1205 372.8V452.8M1217 372.8V464.7M1227 416.0V498.9M1237 469.0V558.8M1249 463.0V548.8M1259 449.0V534.8M1269 418.9V460.9M1281 423.0V502.7M1291 425.9V521.0M1301 513.0V591.0M1313 533.0V605.0M1323 567.0V667.0M1333 623.0V680.9M1343 589.0V690.8M1355 645.0V722.6M1365 613.0V666.8M1375 635.0V675.0M1387 603.0V686.8M1397 507.0V604.9M1407 497.0V604.9M1419 561.0V610.9M1429 573.0V690.7M1439 647.0V710.7M1451 637.0V684.7M1461 615.0V655.7M1471 581.0V647.9M1483 582.9V638.9M1493 557.0V616.9M1503 501.0V581.9M1515 503.0V588.9M1525 571.0V641.0M1535 558.9V620.8M1547 558.9V632.9M1557 573.0V631.9M1567 615.0V680.9M1579 582.9V635.0M1589 549.0V635.0M1599 545.0V610.9M1611 582.9V626.8M1621 545.0V585.0M1631 541.0V602.9M1643 533.0V585.0M1653 566.9V626.8M1663 560.9V617.9M1675 529.0V607.0M1685 545.0V604.9M1695 497.0V578.9M1707 503.0V543.0M1717 486.8V538.9M1727 422.8V503.0M1739 446.8V474.9M1749 460.9V510.9M1759 474.9V513.0M1771 462.8V513.0M1781 493.0V548.9M1791 514.9V570.9M1801 537.0V567.0M1813 524.9V578.9M1823 494.9V540.9M1833 478.9V524.9M1845 483.0V527.9M1855 490.9V548.9M1865 490.9V534.9M1877 490.9V553.0M1887 518.9V613.0M1897 584.9V660.9M1909 606.8V648.9M1919 597.0V660.9M1929 643.0V676.8M1941 597.0V671.9M1951 526.8V584.9M1961 554.9V598.9M1973 585.7V678.6M1983 644.6V676.9M1993 661.0V760.0M2005 742.8V805.0M2015 780.9V830.8M2025 768.9V858.8M2037 822.8V886.9M2047 738.8V850.8M2057 680.9V774.9M2069 727.0V802.7M2079 733.0V810.7M2089 741.0V788.7M2101 727.0V833.8M2111 835.0V966.6M2121 906.8V1160.5M2133 1011.0V1072.5M2143 1016.8V1100.7M2153 971.0V1092.8M2165 990.9V1090.6M2175 1076.6V1160.5M2185 1125.0V1284.5M2197 1243.0V1343.9M2207 1269.0V1437.3" stroke="#323a45" stroke-width="2" fill="none"/>
<rect x="20" y="814.2" width="6" height="19.7" fill="#e8423c"/><rect x="30" y="826.3" width="6" height="17.6" fill="#4cac6c"/><rect x="42" y="790.2" width="6" height="11.6" fill="#e8423c"/><rect x="52" y="772.2" width="6" height="11.5" fill="#4cac6c"/><rect x="62" y="778.6" width="6" height="5.1" fill="#e8423c"/><rect x="74" y="722.3" width="6" height="43.9" fill="#4cac6c"/><rect x="84" y="666.2" width="6" height="43.4" fill="#4cac6c"/><rect x="94" y="596.1" width="6" height="43.7" fill="#4cac6c"/><rect x="106" y="560.3" width="6" height="7.3" fill="#e8423c"/><rect x="116" y="530.1" width="6" height="81.4" fill="#e8423c"/><rect x="126" y="584.3" width="6" height="13.5" fill="#4cac6c"/><rect x="138" y="572.2" width="6" height="37.7" fill="#e8423c"/><rect x="148" y="536.0" width="6" height="71.7" fill="#4cac6c"/><rect x="158" y="524.2" width="6" height="23.4" fill="#4cac6c"/><rect x="170" y="512.0" width="6" height="29.7" fill="#4cac6c"/><rect x="180" y="502.1" width="6" height="13.7" fill="#e8423c"/><rect x="190" y="499.9" width="6" height="47.7" fill="#e8423c"/><rect x="202" y="526.1" width="6" height="9.7" fill="#e8423c"/><rect x="212" y="534.2" width="6" height="19.6" fill="#e8423c"/><rect x="222" y="582.4" width="6" height="7.3" fill="#e8423c"/><rect x="234" y="576.2" width="6" height="15.6" fill="#e8423c"/><rect x="244" y="522.0" width="6" height="83.6" fill="#4cac6c"/><rect x="254" y="526.1" width="6" height="39.6" fill="#e8423c"/><rect x="266" y="624.2" width="6" height="129.4" fill="#e8423c"/><rect x="276" y="708.3" width="6" height="137.2" fill="#4cac6c"/><rect x="286" y="678.0" width="6" height="50.5" fill="#4cac6c"/><rect x="298" y="660.0" width="6" height="177.9" fill="#e8423c"/><rect x="308" y="756.0" width="6" height="24.0" fill="#4cac6c"/><rect x="318" y="720.0" width="6" height="6.0" fill="#4cac6c"/><rect x="330" y="705.8" width="6" height="48.0" fill="#4cac6c"/><rect x="340" y="581.8" width="6" height="133.7" fill="#4cac6c"/><rect x="350" y="547.9" width="6" height="14.0" fill="#e8423c"/><rect x="362" y="532.0" width="6" height="55.5" fill="#4cac6c"/><rect x="372" y="546.0" width="6" height="23.7" fill="#e8423c"/><rect x="382" y="526.0" width="6" height="49.9" fill="#4cac6c"/><rect x="394" y="504.0" width="6" height="110.0" fill="#e8423c"/><rect x="404" y="542.0" width="6" height="72.0" fill="#4cac6c"/><rect x="414" y="518.0" width="6" height="5.9" fill="#4cac6c"/><rect x="426" y="522.0" width="6" height="57.7" fill="#e8423c"/><rect x="436" y="556.0" width="6" height="91.9" fill="#e8423c"/><rect x="446" y="644.4" width="6" height="5.4" fill="#4cac6c"/><rect x="456" y="572.0" width="6" height="107.7" fill="#4cac6c"/><rect x="468" y="516.0" width="6" height="91.7" fill="#4cac6c"/><rect x="478" y="451.9" width="6" height="41.8" fill="#4cac6c"/><rect x="488" y="430.0" width="6" height="71.8" fill="#4cac6c"/><rect x="500" y="410.0" width="6" height="57.8" fill="#e8423c"/><rect x="510" y="390.0" width="6" height="41.7" fill="#4cac6c"/><rect x="520" y="394.0" width="6" height="5.9" fill="#e8423c"/><rect x="532" y="390.0" width="6" height="41.7" fill="#e8423c"/><rect x="542" y="424.0" width="6" height="75.6" fill="#e8423c"/><rect x="552" y="478.0" width="6" height="5.7" fill="#e8423c"/><rect x="564" y="467.8" width="6" height="21.8" fill="#4cac6c"/><rect x="574" y="472.0" width="6" height="31.6" fill="#e8423c"/><rect x="584" y="486.0" width="6" height="35.7" fill="#e8423c"/><rect x="596" y="512.0" width="6" height="6.0" fill="#e8423c"/><rect x="606" y="568.9" width="6" height="115.1" fill="#e8423c"/><rect x="616" y="677.8" width="6" height="162.0" fill="#e8423c"/><rect x="628" y="697.9" width="6" height="78.0" fill="#4cac6c"/><rect x="638" y="685.9" width="6" height="111.9" fill="#e8423c"/><rect x="648" y="768.0" width="6" height="33.8" fill="#4cac6c"/><rect x="660" y="729.8" width="6" height="16.0" fill="#4cac6c"/><rect x="670" y="740.0" width="6" height="77.8" fill="#e8423c"/><rect x="680" y="756.0" width="6" height="41.8" fill="#4cac6c"/><rect x="692" y="706.0" width="6" height="115.7" fill="#4cac6c"/><rect x="702" y="671.9" width="6" height="5.9" fill="#e8423c"/><rect x="712" y="723.9" width="6" height="79.9" fill="#e8423c"/><rect x="724" y="779.9" width="6" height="27.9" fill="#e8423c"/><rect x="734" y="723.9" width="6" height="16.1" fill="#4cac6c"/><rect x="744" y="743.9" width="6" height="17.9" fill="#4cac6c"/><rect x="756" y="663.8" width="6" height="40.0" fill="#4cac6c"/><rect x="766" y="611.8" width="6" height="122.1" fill="#e8423c"/><rect x="776" y="713.8" width="6" height="6.0" fill="#4cac6c"/><rect x="788" y="685.9" width="6" height="87.8" fill="#e8423c"/><rect x="798" y="765.8" width="6" height="26.0" fill="#e8423c"/><rect x="808" y="711.9" width="6" height="64.0" fill="#4cac6c"/><rect x="820" y="671.9" width="6" height="41.9" fill="#4cac6c"/><rect x="830" y="633.9" width="6" height="22.0" fill="#4cac6c"/><rect x="840" y="601.7" width="6" height="10.0" fill="#4cac6c"/><rect x="852" y="600.0" width="6" height="5.6" fill="#e8423c"/><rect x="862" y="601.7" width="6" height="6.1" fill="#4cac6c"/><rect x="872" y="565.8" width="6" height="35.9" fill="#4cac6c"/><rect x="884" y="559.7" width="6" height="79.9" fill="#e8423c"/><rect x="894" y="606.0" width="6" height="37.5" fill="#4cac6c"/><rect x="904" y="613.9" width="6" height="6.1" fill="#4cac6c"/><rect x="914" y="644.0" width="6" height="15.8" fill="#e8423c"/><rect x="926" y="601.7" width="6" height="89.9" fill="#4cac6c"/><rect x="936" y="579.7" width="6" height="12.2" fill="#4cac6c"/><rect x="946" y="539.6" width="6" height="32.3" fill="#4cac6c"/><rect x="958" y="496.0" width="6" height="17.7" fill="#4cac6c"/><rect x="968" y="483.9" width="6" height="24.0" fill="#4cac6c"/><rect x="978" y="475.9" width="6" height="8.0" fill="#e8423c"/><rect x="990" y="471.7" width="6" height="30.1" fill="#e8423c"/><rect x="1000" y="470.0" width="6" height="35.9" fill="#4cac6c"/><rect x="1010" y="448.0" width="6" height="25.7" fill="#4cac6c"/><rect x="1022" y="429.7" width="6" height="26.1" fill="#4cac6c"/><rect x="1032" y="428.0" width="6" height="42.0" fill="#e8423c"/><rect x="1042" y="418.0" width="6" height="37.8" fill="#4cac6c"/><rect x="1054" y="389.9" width="6" height="11.7" fill="#4cac6c"/><rect x="1064" y="396.0" width="6" height="27.6" fill="#e8423c"/><rect x="1074" y="434.0" width="6" height="6.0" fill="#4cac6c"/><rect x="1086" y="449.7" width="6" height="13.9" fill="#4cac6c"/><rect x="1096" y="510.0" width="6" height="53.8" fill="#e8423c"/><rect x="1106" y="490.0" width="6" height="29.8" fill="#4cac6c"/><rect x="1118" y="500.0" width="6" height="25.5" fill="#e8423c"/><rect x="1128" y="476.0" width="6" height="6.0" fill="#4cac6c"/><rect x="1138" y="428.0" width="6" height="27.8" fill="#4cac6c"/><rect x="1150" y="436.0" width="6" height="6.0" fill="#e8423c"/><rect x="1160" y="356.0" width="6" height="54.0" fill="#4cac6c"/><rect x="1170" y="338.0" width="6" height="18.0" fill="#e8423c"/><rect x="1182" y="338.0" width="6" height="34.0" fill="#4cac6c"/><rect x="1192" y="338.0" width="6" height="57.7" fill="#e8423c"/><rect x="1202" y="374.0" width="6" height="49.7" fill="#e8423c"/><rect x="1214" y="420.0" width="6" height="21.5" fill="#e8423c"/><rect x="1224" y="416.0" width="6" height="45.7" fill="#e8423c"/><rect x="1234" y="494.0" width="6" height="12.0" fill="#4cac6c"/><rect x="1246" y="492.0" width="6" height="31.7" fill="#4cac6c"/><rect x="1256" y="458.0" width="6" height="73.8" fill="#4cac6c"/><rect x="1266" y="425.9" width="6" height="23.7" fill="#e8423c"/><rect x="1278" y="448.0" width="6" height="11.8" fill="#e8423c"/><rect x="1288" y="425.9" width="6" height="80.1" fill="#e8423c"/><rect x="1298" y="530.0" width="6" height="19.9" fill="#e8423c"/><rect x="1310" y="544.0" width="6" height="27.7" fill="#e8423c"/><rect x="1320" y="584.0" width="6" height="75.8" fill="#e8423c"/><rect x="1330" y="654.0" width="6" height="7.7" fill="#4cac6c"/><rect x="1340" y="614.0" width="6" height="74.0" fill="#e8423c"/><rect x="1352" y="648.0" width="6" height="68.0" fill="#4cac6c"/><rect x="1362" y="638.0" width="6" height="25.9" fill="#e8423c"/><rect x="1372" y="640.0" width="6" height="15.8" fill="#e8423c"/><rect x="1384" y="616.0" width="6" height="45.7" fill="#4cac6c"/><rect x="1394" y="522.0" width="6" height="73.7" fill="#4cac6c"/><rect x="1404" y="508.0" width="6" height="65.7" fill="#e8423c"/><rect x="1416" y="594.0" width="6" height="9.9" fill="#4cac6c"/><rect x="1426" y="580.0" width="6" height="70.0" fill="#e8423c"/><rect x="1436" y="656.0" width="6" height="41.7" fill="#e8423c"/><rect x="1448" y="645.9" width="6" height="32.1" fill="#4cac6c"/><rect x="1458" y="642.0" width="6" height="13.7" fill="#4cac6c"/><rect x="1468" y="591.8" width="6" height="56.1" fill="#4cac6c"/><rect x="1480" y="602.0" width="6" height="6.0" fill="#4cac6c"/><rect x="1490" y="577.8" width="6" height="22.2" fill="#4cac6c"/><rect x="1500" y="517.9" width="6" height="64.0" fill="#4cac6c"/><rect x="1512" y="503.9" width="6" height="65.9" fill="#e8423c"/><rect x="1522" y="577.8" width="6" height="40.1" fill="#e8423c"/><rect x="1532" y="594.0" width="6" height="25.8" fill="#4cac6c"/><rect x="1544" y="602.0" width="6" height="6.0" fill="#e8423c"/><rect x="1554" y="590.0" width="6" height="41.9" fill="#e8423c"/><rect x="1564" y="623.9" width="6" height="26.1" fill="#e8423c"/><rect x="1576" y="602.0" width="6" height="21.9" fill="#4cac6c"/><rect x="1586" y="558.0" width="6" height="70.0" fill="#4cac6c"/><rect x="1596" y="577.8" width="6" height="24.2" fill="#e8423c"/><rect x="1608" y="591.8" width="6" height="16.2" fill="#4cac6c"/><rect x="1618" y="577.8" width="6" height="6.2" fill="#e8423c"/><rect x="1628" y="545.9" width="6" height="42.0" fill="#4cac6c"/><rect x="1640" y="550.0" width="6" height="17.9" fill="#e8423c"/><rect x="1650" y="587.9" width="6" height="24.1" fill="#4cac6c"/><rect x="1660" y="598.0" width="6" height="19.9" fill="#e8423c"/><rect x="1672" y="543.9" width="6" height="62.1" fill="#4cac6c"/><rect x="1682" y="577.8" width="6" height="17.9" fill="#e8423c"/><rect x="1692" y="521.9" width="6" height="53.9" fill="#4cac6c"/><rect x="1704" y="507.9" width="6" height="26.1" fill="#4cac6c"/><rect x="1714" y="496.0" width="6" height="21.9" fill="#4cac6c"/><rect x="1724" y="443.9" width="6" height="45.9" fill="#4cac6c"/><rect x="1736" y="457.9" width="6" height="6.0" fill="#4cac6c"/><rect x="1746" y="467.9" width="6" height="21.9" fill="#e8423c"/><rect x="1756" y="479.8" width="6" height="28.1" fill="#e8423c"/><rect x="1768" y="487.9" width="6" height="20.0" fill="#e8423c"/><rect x="1778" y="496.0" width="6" height="30.0" fill="#e8423c"/><rect x="1788" y="524.0" width="6" height="13.9" fill="#e8423c"/><rect x="1798" y="550.0" width="6" height="6.0" fill="#e8423c"/><rect x="1810" y="527.9" width="6" height="47.9" fill="#4cac6c"/><rect x="1820" y="503.9" width="6" height="36.1" fill="#4cac6c"/><rect x="1830" y="493.9" width="6" height="18.0" fill="#4cac6c"/><rect x="1842" y="497.9" width="6" height="30.0" fill="#e8423c"/><rect x="1852" y="493.9" width="6" height="22.1" fill="#e8423c"/><rect x="1862" y="500.0" width="6" height="26.0" fill="#e8423c"/><rect x="1874" y="517.9" width="6" height="22.1" fill="#4cac6c"/><rect x="1884" y="544.0" width="6" height="62.0" fill="#e8423c"/><rect x="1894" y="601.9" width="6" height="56.0" fill="#e8423c"/><rect x="1906" y="610.0" width="6" height="37.9" fill="#4cac6c"/><rect x="1916" y="613.9" width="6" height="34.0" fill="#e8423c"/><rect x="1926" y="643.9" width="6" height="24.0" fill="#e8423c"/><rect x="1938" y="606.0" width="6" height="65.9" fill="#4cac6c"/><rect x="1948" y="546.0" width="6" height="38.0" fill="#4cac6c"/><rect x="1958" y="566.0" width="6" height="27.9" fill="#e8423c"/><rect x="1970" y="586.4" width="6" height="79.0" fill="#e8423c"/><rect x="1980" y="652.0" width="6" height="17.6" fill="#e8423c"/><rect x="1990" y="669.9" width="6" height="90.1" fill="#e8423c"/><rect x="2002" y="750.0" width="6" height="47.7" fill="#e8423c"/><rect x="2012" y="802.0" width="6" height="11.7" fill="#4cac6c"/><rect x="2022" y="786.0" width="6" height="59.8" fill="#e8423c"/><rect x="2034" y="856.0" width="6" height="6.0" fill="#e8423c"/><rect x="2044" y="758.0" width="6" height="85.8" fill="#4cac6c"/><rect x="2054" y="748.0" width="6" height="9.6" fill="#4cac6c"/><rect x="2066" y="728.0" width="6" height="55.9" fill="#e8423c"/><rect x="2076" y="752.0" width="6" height="45.7" fill="#4cac6c"/><rect x="2086" y="761.9" width="6" height="10.0" fill="#e8423c"/><rect x="2098" y="771.9" width="6" height="61.9" fill="#e8423c"/><rect x="2108" y="853.8" width="6" height="112.2" fill="#e8423c"/><rect x="2118" y="916.3" width="6" height="133.2" fill="#e8423c"/><rect x="2130" y="1038.0" width="6" height="5.7" fill="#4cac6c"/><rect x="2140" y="1020.0" width="6" height="9.7" fill="#e8423c"/><rect x="2150" y="1007.8" width="6" height="33.8" fill="#4cac6c"/><rect x="2162" y="1020.0" width="6" height="63.4" fill="#e8423c"/><rect x="2172" y="1113.8" width="6" height="35.9" fill="#e8423c"/><rect x="2182" y="1136.0" width="6" height="137.4" fill="#e8423c"/><rect x="2194" y="1268.0" width="6" height="75.9" fill="#4cac6c"/><rect x="2204" y="1270.4" width="6" height="166.9" fill="#e8423c"/>
<rect x="2205.3" y="1328" width="3" height="109.3" fill="#fbe9e7"/><rect x="2206" y="1329" width="1.5" height="108.3" fill="#ee6c66"/>
<rect x="2206.2" y="1436.5" width="2.1" height="8" fill="#b5b8bf"/>
<path d="M18.0 1133.4C20.8 1133.1 28.7 1132.5 34.8 1131.3C40.9 1130.1 47.6 1127.8 54.4 1126.0C61.2 1124.2 66.4 1123.2 75.5 1120.7C84.6 1118.2 99.7 1113.5 108.8 1111.0C117.9 1108.5 123.0 1107.5 130.0 1105.6C137.0 1103.7 142.4 1102.3 151.0 1099.5C159.6 1096.7 171.2 1092.4 181.3 1089.0C191.4 1085.6 201.9 1082.3 211.5 1079.0C221.1 1075.7 231.1 1071.7 238.7 1069.0C246.3 1066.3 248.8 1065.2 256.9 1063.0C264.9 1060.8 278.0 1057.7 287.0 1056.0C296.0 1054.3 302.9 1054.2 311.0 1052.7C319.1 1051.2 326.8 1049.2 335.4 1047.0C344.0 1044.8 353.0 1042.3 362.6 1039.7C372.2 1037.1 382.8 1034.4 392.9 1031.5C403.0 1028.6 414.5 1025.1 423.0 1022.5C431.5 1019.9 437.9 1017.8 444.0 1016.0C450.1 1014.2 452.8 1014.2 459.4 1011.9C466.0 1009.6 474.4 1005.8 483.5 1002.0C492.6 998.2 503.6 993.2 513.7 989.0C523.8 984.8 534.0 981.0 544.0 977.0C554.0 973.0 563.9 968.6 574.0 965.0C584.1 961.4 595.3 957.8 604.4 955.4C613.5 953.0 618.5 952.3 628.6 950.5C638.7 948.7 656.3 946.0 664.9 944.8C673.5 943.6 673.3 944.4 680.0 943.3C686.7 942.2 697.1 939.5 704.9 938.0C712.7 936.5 718.8 935.8 726.6 934.0C734.4 932.2 743.2 929.2 751.5 927.0C759.8 924.8 765.5 922.9 776.4 920.9C787.3 918.9 804.9 916.9 816.8 914.7C828.7 912.5 837.5 910.1 847.9 907.6C858.3 905.1 868.6 902.4 879.0 900.0C889.4 897.6 900.2 895.4 910.0 893.0C919.8 890.6 928.7 888.4 938.0 885.8C947.3 883.2 956.7 880.2 966.0 877.4C975.3 874.5 984.7 871.7 994.0 868.7C1003.3 865.7 1012.2 862.6 1022.0 859.4C1031.8 856.2 1042.7 852.9 1053.0 849.4C1063.3 845.9 1073.7 842.0 1084.0 838.5C1094.3 835.0 1105.7 831.5 1115.0 828.3C1124.3 825.0 1131.7 822.5 1140.0 819.0C1148.3 815.5 1156.2 811.6 1165.0 807.5C1173.8 803.4 1183.2 798.8 1193.0 794.4C1202.8 790.0 1213.7 785.3 1224.0 781.0C1234.3 776.7 1244.7 773.0 1255.0 768.6C1265.3 764.2 1276.7 758.8 1286.0 754.6C1295.3 750.5 1303.2 746.7 1311.0 743.7C1318.8 740.8 1324.2 739.7 1333.0 736.9C1341.8 734.1 1354.5 729.7 1364.0 727.0C1373.5 724.3 1382.8 722.6 1390.0 720.8C1397.2 719.0 1400.5 717.8 1407.0 716.0C1413.5 714.2 1423.7 711.3 1429.0 710.0C1434.3 708.7 1433.7 709.0 1439.0 708.0C1444.3 707.0 1453.7 705.2 1461.0 703.7C1468.3 702.2 1476.0 700.4 1483.0 698.8C1490.0 697.2 1496.0 695.5 1503.0 694.0C1510.0 692.5 1517.7 691.3 1525.0 689.9C1532.3 688.5 1540.0 687.1 1547.0 685.8C1554.0 684.5 1560.0 683.5 1567.0 682.0C1574.0 680.5 1581.7 678.5 1589.0 677.0C1596.3 675.5 1604.0 674.2 1611.0 673.0C1618.0 671.8 1624.0 670.8 1631.0 669.5C1638.0 668.2 1645.7 666.3 1653.0 665.0C1660.3 663.7 1669.7 662.3 1675.0 661.5C1680.3 660.7 1679.7 661.1 1685.0 660.0C1690.3 658.9 1700.0 656.5 1707.0 654.7C1714.0 653.0 1720.0 651.1 1727.0 649.5C1734.0 647.9 1741.7 646.9 1749.0 645.0C1756.3 643.1 1764.0 640.2 1771.0 638.0C1778.0 635.8 1784.0 633.9 1791.0 632.0C1798.0 630.1 1806.0 628.5 1813.0 626.7C1820.0 624.9 1826.0 622.7 1833.0 621.0C1840.0 619.3 1847.7 618.2 1855.0 616.5C1862.3 614.8 1871.7 612.2 1877.0 611.0C1882.3 609.8 1883.7 609.7 1887.0 609.0C1890.3 608.3 1893.3 607.7 1897.0 607.0C1900.7 606.3 1905.3 605.5 1909.0 605.0C1912.7 604.5 1913.7 604.4 1919.0 604.0C1924.3 603.6 1934.0 603.3 1941.0 602.8C1948.0 602.3 1954.0 601.5 1961.0 601.0C1968.0 600.5 1975.7 600.0 1983.0 599.7C1990.3 599.4 1996.0 599.2 2005.0 599.0C2014.0 598.8 2028.3 598.8 2037.0 598.6C2045.7 598.4 2050.0 598.1 2057.0 598.0C2064.0 597.9 2073.7 598.0 2079.0 598.0C2084.3 598.0 2085.3 597.9 2089.0 598.0C2092.7 598.1 2095.1 598.1 2101.0 598.6C2106.9 599.1 2116.4 600.4 2124.4 601.2C2132.4 602.0 2142.2 602.8 2149.0 603.5C2155.8 604.2 2159.6 604.5 2165.0 605.4C2170.4 606.2 2176.0 607.4 2181.5 608.6C2187.0 609.8 2193.6 611.4 2197.8 612.5C2202.0 613.6 2205.2 614.9 2206.7 615.4" fill="none" stroke="#3a12a6" stroke-width="2.2" stroke-linejoin="round"/>
<path d="M18.0 929.7C20.8 928.9 27.7 927.3 34.8 925.0C41.9 922.7 51.6 919.5 60.4 916.0C69.2 912.5 78.5 909.4 87.6 904.0C96.7 898.6 106.2 890.0 114.8 883.5C123.4 877.0 133.0 869.5 139.0 865.0C145.0 860.5 145.4 861.9 151.0 856.5C156.6 851.1 165.3 840.8 172.5 832.5C179.7 824.2 186.8 814.9 194.0 807.0C201.2 799.1 208.4 792.4 215.6 785.4C222.8 778.4 230.0 771.5 237.0 765.0C244.0 758.5 252.0 750.3 257.4 746.3C262.8 742.3 265.7 743.1 269.5 740.9C273.3 738.7 276.6 735.6 280.0 733.2C283.4 730.8 286.1 728.5 289.6 726.5C293.1 724.5 297.4 722.2 301.0 720.9C304.6 719.6 307.7 719.4 311.0 718.8C314.3 718.2 317.3 718.1 321.0 717.4C324.7 716.7 329.4 715.8 333.0 714.7C336.6 713.6 339.5 711.9 342.8 710.7C346.1 709.5 348.4 709.4 352.8 707.4C357.2 705.4 363.6 701.7 369.0 699.0C374.4 696.3 380.4 693.1 385.0 691.0C389.6 688.9 391.4 689.1 396.7 686.4C402.0 683.7 409.9 678.7 417.0 675.0C424.1 671.3 432.0 667.0 439.0 664.0C446.0 661.0 453.7 659.0 459.0 656.8C464.3 654.5 466.7 653.1 471.0 650.5C475.3 647.9 479.6 644.2 484.9 641.0C490.2 637.8 496.6 635.5 503.0 631.3C509.4 627.1 516.0 620.8 523.0 615.7C530.0 610.6 537.7 605.7 545.0 600.7C552.3 595.7 560.0 589.8 567.0 585.7C574.0 581.6 581.6 578.5 586.9 575.9C592.2 573.3 595.3 571.2 599.0 570.0C602.7 568.8 605.7 568.4 609.0 568.7C612.3 569.0 615.3 570.7 619.0 571.7C622.7 572.7 627.3 573.4 631.0 574.7C634.7 576.0 635.7 577.4 641.0 579.3C646.3 581.2 655.9 583.7 662.9 586.2C669.9 588.7 675.9 591.7 682.9 594.2C689.9 596.7 699.6 599.0 705.0 601.0C710.4 603.0 711.3 604.6 715.0 606.5C718.7 608.4 721.7 610.2 727.0 612.3C732.3 614.4 741.5 617.5 746.8 619.0C752.1 620.5 755.3 620.2 759.0 621.0C762.7 621.8 765.7 622.8 769.0 624.0C772.3 625.2 775.3 626.7 779.0 628.0C782.7 629.3 787.3 631.2 791.0 632.0C794.7 632.8 797.7 632.8 801.0 632.9C804.3 633.0 807.3 633.0 811.0 632.9C814.7 632.8 819.3 633.2 823.0 632.5C826.7 631.8 829.7 629.8 833.0 628.5C836.3 627.2 839.3 626.0 843.0 625.0C846.7 624.0 851.3 623.2 855.0 622.5C858.7 621.8 861.7 621.1 865.0 620.7C868.3 620.3 871.3 619.8 875.0 620.1C878.7 620.4 883.3 621.6 887.0 622.3C890.7 622.9 893.7 623.5 897.0 624.0C900.3 624.5 903.7 624.5 907.0 625.0C910.3 625.5 913.3 626.7 917.0 627.0C920.7 627.3 925.3 626.9 929.0 627.0C932.7 627.1 935.7 627.4 939.0 627.6C942.3 627.8 945.3 628.3 949.0 628.0C952.7 627.7 957.3 626.8 961.0 626.0C964.7 625.2 967.7 624.0 971.0 623.0C974.3 622.0 977.3 620.7 981.0 620.0C984.7 619.3 989.3 619.2 993.0 618.8C996.7 618.4 997.7 618.0 1003.0 617.8C1008.3 617.6 1018.0 617.6 1025.0 617.6C1032.0 617.6 1038.0 618.0 1045.0 618.0C1052.0 618.0 1061.7 618.1 1067.0 617.8C1072.3 617.5 1073.5 616.5 1077.0 616.0C1080.5 615.5 1084.1 614.7 1087.8 615.0C1091.5 615.3 1095.5 617.3 1099.0 617.8C1102.5 618.3 1103.8 617.9 1109.0 617.8C1114.2 617.7 1125.2 617.9 1130.5 617.0C1135.8 616.1 1137.3 614.9 1141.0 612.7C1144.7 610.5 1149.3 606.7 1152.9 604.0C1156.5 601.3 1159.5 599.2 1162.8 596.5C1166.1 593.8 1169.1 590.8 1172.8 587.9C1176.5 585.0 1181.3 581.6 1185.0 579.0C1188.7 576.4 1191.7 574.2 1195.0 572.0C1198.3 569.8 1201.3 567.8 1205.0 565.5C1208.7 563.2 1213.3 560.1 1217.0 558.0C1220.7 555.9 1223.7 554.3 1227.0 553.0C1230.3 551.7 1233.4 551.7 1237.0 550.0C1240.6 548.3 1245.2 545.0 1248.8 542.6C1252.4 540.2 1255.4 537.8 1258.8 535.8C1262.2 533.8 1265.3 532.3 1269.0 530.5C1272.7 528.7 1277.3 526.4 1281.0 525.0C1284.7 523.6 1287.7 523.0 1291.0 522.0C1294.3 521.0 1297.1 520.0 1300.8 518.9C1304.5 517.8 1309.3 516.5 1313.0 515.6C1316.7 514.7 1319.7 514.3 1323.0 513.5C1326.3 512.7 1329.7 511.6 1333.0 511.0C1336.3 510.4 1339.4 510.2 1343.0 510.0C1346.6 509.8 1351.1 509.7 1354.7 509.7C1358.3 509.7 1361.3 509.7 1364.7 510.0C1368.1 510.3 1371.3 511.3 1375.0 511.6C1378.7 511.9 1383.1 512.3 1386.8 512.0C1390.5 511.7 1393.6 510.3 1397.0 510.0C1400.4 509.7 1403.3 510.2 1407.0 510.0C1410.7 509.8 1415.3 509.0 1419.0 509.0C1422.7 509.0 1425.7 509.5 1429.0 510.0C1432.3 510.5 1435.3 511.7 1439.0 512.0C1442.7 512.3 1447.3 511.9 1451.0 511.9C1454.7 511.9 1457.7 511.9 1461.0 512.0C1464.3 512.1 1467.3 512.5 1471.0 512.8C1474.7 513.1 1479.3 513.5 1483.0 514.0C1486.7 514.5 1489.7 515.5 1493.0 516.0C1496.3 516.5 1499.3 516.4 1503.0 516.7C1506.7 517.0 1511.3 517.3 1515.0 518.0C1518.7 518.7 1521.7 520.0 1525.0 520.8C1528.3 521.6 1531.3 522.0 1535.0 523.0C1538.7 524.0 1543.3 525.5 1547.0 526.7C1550.7 527.9 1553.7 528.9 1557.0 530.0C1560.3 531.1 1563.3 532.2 1567.0 533.5C1570.7 534.8 1575.3 536.4 1579.0 537.6C1582.7 538.9 1585.7 539.8 1589.0 541.0C1592.3 542.2 1595.3 543.9 1599.0 545.0C1602.7 546.1 1607.3 547.1 1611.0 547.9C1614.7 548.7 1617.7 549.5 1621.0 549.8C1624.3 550.1 1627.3 549.4 1631.0 549.5C1634.7 549.6 1639.3 550.2 1643.0 550.6C1646.7 551.0 1649.7 551.4 1653.0 552.0C1656.3 552.6 1659.3 553.0 1663.0 554.0C1666.7 555.0 1671.3 556.5 1675.0 557.7C1678.7 558.9 1681.7 559.9 1685.0 561.0C1688.3 562.1 1691.3 563.3 1695.0 564.4C1698.7 565.5 1703.3 566.6 1707.0 567.5C1710.7 568.4 1713.7 569.4 1717.0 570.0C1720.3 570.6 1723.3 570.6 1727.0 570.9C1730.7 571.2 1735.3 571.7 1739.0 572.0C1742.7 572.3 1745.7 572.5 1749.0 572.8C1752.3 573.1 1755.3 573.5 1759.0 573.7C1762.7 573.9 1767.3 573.8 1771.0 574.0C1774.7 574.2 1777.7 574.6 1781.0 574.9C1784.3 575.2 1787.7 575.5 1791.0 576.0C1794.3 576.5 1797.3 577.4 1801.0 578.0C1804.7 578.6 1809.3 579.5 1813.0 579.8C1816.7 580.1 1819.7 579.9 1823.0 579.8C1826.3 579.7 1829.3 579.3 1833.0 579.0C1836.7 578.7 1841.3 578.6 1845.0 577.9C1848.7 577.2 1851.7 575.9 1855.0 575.0C1858.3 574.1 1861.3 573.8 1865.0 572.8C1868.7 571.8 1873.3 569.8 1877.0 569.0C1880.7 568.2 1883.7 568.2 1887.0 568.0C1890.3 567.8 1893.3 568.2 1897.0 568.0C1900.7 567.8 1905.3 567.0 1909.0 567.0C1912.7 567.0 1915.7 567.4 1919.0 567.9C1922.3 568.4 1925.3 569.7 1929.0 570.3C1932.7 570.9 1937.3 571.5 1941.0 571.5C1944.7 571.5 1947.7 570.4 1951.0 570.0C1954.3 569.6 1957.3 569.2 1961.0 568.9C1964.7 568.6 1969.3 568.0 1973.0 568.0C1976.7 568.0 1979.7 568.1 1983.0 568.9C1986.3 569.7 1989.3 571.2 1993.0 572.6C1996.7 574.0 2001.3 575.6 2005.0 577.0C2008.7 578.4 2011.7 579.5 2015.0 581.0C2018.3 582.5 2021.3 583.8 2025.0 585.7C2028.7 587.7 2033.3 591.0 2037.0 592.7C2040.7 594.4 2043.7 595.0 2047.0 596.0C2050.3 597.0 2053.3 597.9 2057.0 599.0C2060.7 600.1 2065.3 601.6 2069.0 602.7C2072.7 603.8 2075.7 604.7 2079.0 605.7C2082.3 606.7 2085.3 607.5 2089.0 608.5C2092.7 609.5 2097.4 610.3 2101.0 612.0C2104.6 613.7 2107.3 615.9 2110.6 618.7C2113.9 621.5 2117.7 625.6 2121.0 628.6C2124.3 631.6 2127.2 634.3 2130.5 637.0C2133.8 639.7 2136.9 642.2 2140.5 645.0C2144.1 647.8 2147.9 650.5 2152.0 654.0C2156.1 657.5 2160.9 661.9 2165.0 666.0C2169.1 670.1 2172.8 674.2 2176.6 678.5C2180.4 682.8 2184.5 687.7 2188.0 692.0C2191.5 696.3 2194.7 699.6 2197.8 704.5C2200.9 709.4 2205.2 718.7 2206.7 721.5" fill="none" stroke="#e8413c" stroke-width="2" stroke-linejoin="round"/>
<rect x="18.5" y="1546.0" width="2195.5" height="2.2" fill="#babcc4"/>
<rect x="2212" y="216" width="2.2" height="1332.1" fill="#babcc4"/>
<rect x="239.9" y="1547.3" width="2.2" height="11" fill="#babcc4"/>
<rect x="341.8" y="1547.3" width="2.2" height="11" fill="#babcc4"/>
<rect x="443.9" y="1547.3" width="2.2" height="11" fill="#babcc4"/>
<rect x="544.0" y="1547.3" width="2.2" height="11" fill="#babcc4"/>
<rect x="666.0" y="1547.3" width="2.2" height="11" fill="#babcc4"/>
<rect x="774.0" y="1547.3" width="2.2" height="11" fill="#babcc4"/>
<rect x="890.0" y="1547.3" width="2.2" height="11" fill="#babcc4"/>
<rect x="992.0" y="1547.3" width="2.2" height="11" fill="#babcc4"/>
<rect x="1124.0" y="1547.3" width="2.2" height="11" fill="#babcc4"/>
<rect x="1226.0" y="1547.3" width="2.2" height="11" fill="#babcc4"/>
<rect x="1348.0" y="1547.3" width="2.2" height="11" fill="#babcc4"/>
<rect x="1572.0" y="1547.3" width="2.2" height="11" fill="#babcc4"/>
<rect x="1674.0" y="1547.3" width="2.2" height="11" fill="#babcc4"/>
<rect x="1816.0" y="1547.3" width="2.2" height="11" fill="#babcc4"/>
<rect x="2020.0" y="1547.3" width="2.2" height="11" fill="#babcc4"/>
<rect x="2125.7" y="1547.3" width="2.2" height="11" fill="#babcc4"/>
<rect x="2214" y="392.0" width="4.9" height="2" fill="#babcc4"/>
<rect x="2214" y="576.0" width="4.9" height="2" fill="#babcc4"/>
<rect x="2214" y="760.0" width="4.9" height="2" fill="#babcc4"/>
<rect x="2214" y="944.0" width="4.9" height="2" fill="#babcc4"/>
<rect x="2214" y="1128.0" width="4.9" height="2" fill="#babcc4"/>
<rect x="2214" y="1312.0" width="4.9" height="2" fill="#babcc4"/>
<rect x="2214" y="1496.0" width="4.9" height="2" fill="#babcc4"/>
<g font-family="Liberation Sans, sans-serif" font-size="26"><text x="19.2" y="1585.9" fill="#464e56">18</text><text x="240.9" y="1585.9" text-anchor="middle" fill="#464e56">Feb</text><text x="342.8" y="1585.9" text-anchor="middle" fill="#7d8289">14</text><text x="444.9" y="1585.9" text-anchor="middle" fill="#464e56">Mar</text><text x="545.0" y="1585.9" text-anchor="middle" fill="#7d8289">14</text><text x="667.0" y="1585.9" text-anchor="middle" fill="#464e56">Apr</text><text x="775.0" y="1585.9" text-anchor="middle" fill="#7d8289">14</text><text x="891.0" y="1585.9" text-anchor="middle" fill="#464e56">May</text><text x="993.0" y="1585.9" text-anchor="middle" fill="#7d8289">14</text><text x="1125.0" y="1585.9" text-anchor="middle" fill="#464e56">Jun</text><text x="1227.0" y="1585.9" text-anchor="middle" fill="#7d8289">14</text><text x="1349.0" y="1585.9" text-anchor="middle" fill="#464e56">Jul</text><text x="1573.0" y="1585.9" text-anchor="middle" fill="#464e56">Aug</text><text x="1675.0" y="1585.9" text-anchor="middle" fill="#7d8289">14</text><text x="1817.0" y="1585.9" text-anchor="middle" fill="#464e56">Sep</text><text x="2021.0" y="1585.9" text-anchor="middle" fill="#464e56">Oct</text><text x="2126.7" y="1585.9" text-anchor="middle" fill="#7d8289">14</text><text x="2223.3" y="401.7" fill="#464e56" letter-spacing=".28">65.00</text><text x="2223.3" y="585.7" fill="#464e56" letter-spacing=".28">62.50</text><text x="2223.3" y="769.7" fill="#464e56" letter-spacing=".28">60.00</text><text x="2223.3" y="953.7" fill="#464e56" letter-spacing=".28">57.50</text><text x="2223.3" y="1137.7" fill="#464e56" letter-spacing=".28">55.00</text><text x="2223.3" y="1321.7" fill="#464e56" letter-spacing=".28">52.50</text><text x="2223.3" y="1505.7" fill="#464e56" letter-spacing=".28">50.00</text></g>
<rect x="2210" y="595.9" width="77.1" height="38.1" rx="4.5" fill="#3a14a4"/><text x="2217.7" y="626.4" fill="#fff" font-family="Liberation Sans, sans-serif" font-size="26" letter-spacing=".2">61.98</text>
<rect x="2210" y="702.8" width="77.1" height="38" rx="4.5" fill="#e8433f"/><text x="2217.7" y="733.3" fill="#fff" font-family="Liberation Sans, sans-serif" font-size="26" letter-spacing=".2">60.53</text>
<rect x="2210.4" y="1308" width="98.2" height="38" rx="4.5" fill="#b9bcc7"/><text x="2216.8" y="1338.5" fill="#3f4750" font-family="Liberation Sans, sans-serif" font-size="26" letter-spacing=".2">17.71M</text>
<rect x="2210" y="1417.3" width="77.3" height="37.6" rx="4.5" fill="#e8433f"/><text x="2217.7" y="1447.8" fill="#fff" font-family="Liberation Sans, sans-serif" font-size="26" letter-spacing=".2">50.82</text>
<rect x="2322" y="871.3" width="10" height="79.5" rx="3.5" fill="#4351c2"/></svg>
<div style="position:absolute;top:236px;height:49.6px;background:#fff;border-radius:6px;box-shadow:0 2px 14px rgba(60,70,80,.22);left:38px;width:148.8px;overflow:hidden"><div style="position:absolute;left:0;top:0;width:10px;height:100%;background:#387de6"></div></div>
<div style="position:absolute;top:236px;height:49.6px;background:#fff;border-radius:6px;box-shadow:0 2px 14px rgba(60,70,80,.22);left:197.1px;width:232px"></div>
<div style="position:absolute;top:236px;height:49.6px;background:#fff;border-radius:6px;box-shadow:0 2px 14px rgba(60,70,80,.22);left:439px;width:245px"></div>
<div class="t" style="left:59.5px;top:249.4px;font-size:24px;color:#464e56;letter-spacing:-1.117px;">KRE</div>
<div class="t" style="left:116.6px;top:249.4px;font-size:24px;color:#464e56;letter-spacing:-0.232px;">53.10</div>
<div class="t" style="left:207.3px;top:249.4px;font-size:24px;color:#464e56;letter-spacing:-0.058px;">MA (50,C,MA,0)</div>
<div class="t" style="left:449.0px;top:249.4px;font-size:24px;color:#464e56;letter-spacing:-0.031px;">MA (200,C,MA,0)</div>
<svg class="abs" style="left:380px;top:240px" width="300" height="44" viewBox="380 240 300 44"><path d="M396.4 253.29999999999998L412.2 269.1M412.2 253.29999999999998L396.4 269.1" stroke="#70757b" stroke-width="2.2" fill="none" stroke-linecap="round"/><path d="M651.2 253.3L667 269.09999999999997M667 253.3L651.2 269.09999999999997" stroke="#70757b" stroke-width="2.2" fill="none" stroke-linecap="round"/></svg>
<div style="position:absolute;left:1059.8px;top:1438.4px;width:140.3px;height:49.6px;background:#fafafa;border-radius:7px;box-shadow:0 2px 5px rgba(0,0,0,.18)">
<div style="position:absolute;left:22px;top:23px;width:26px;height:4.2px;border-radius:2px;background:#58595b"></div>
<div style="position:absolute;left:72.2px;top:8px;width:2px;height:34px;background:#c8c8ca"></div>
<div style="position:absolute;left:92.6px;top:23px;width:25.6px;height:4.2px;border-radius:2px;background:#58595b"></div>
<div style="position:absolute;left:103.3px;top:12.3px;width:4.2px;height:25.6px;border-radius:2px;background:#58595b"></div>
</div>
</div></body></html>
